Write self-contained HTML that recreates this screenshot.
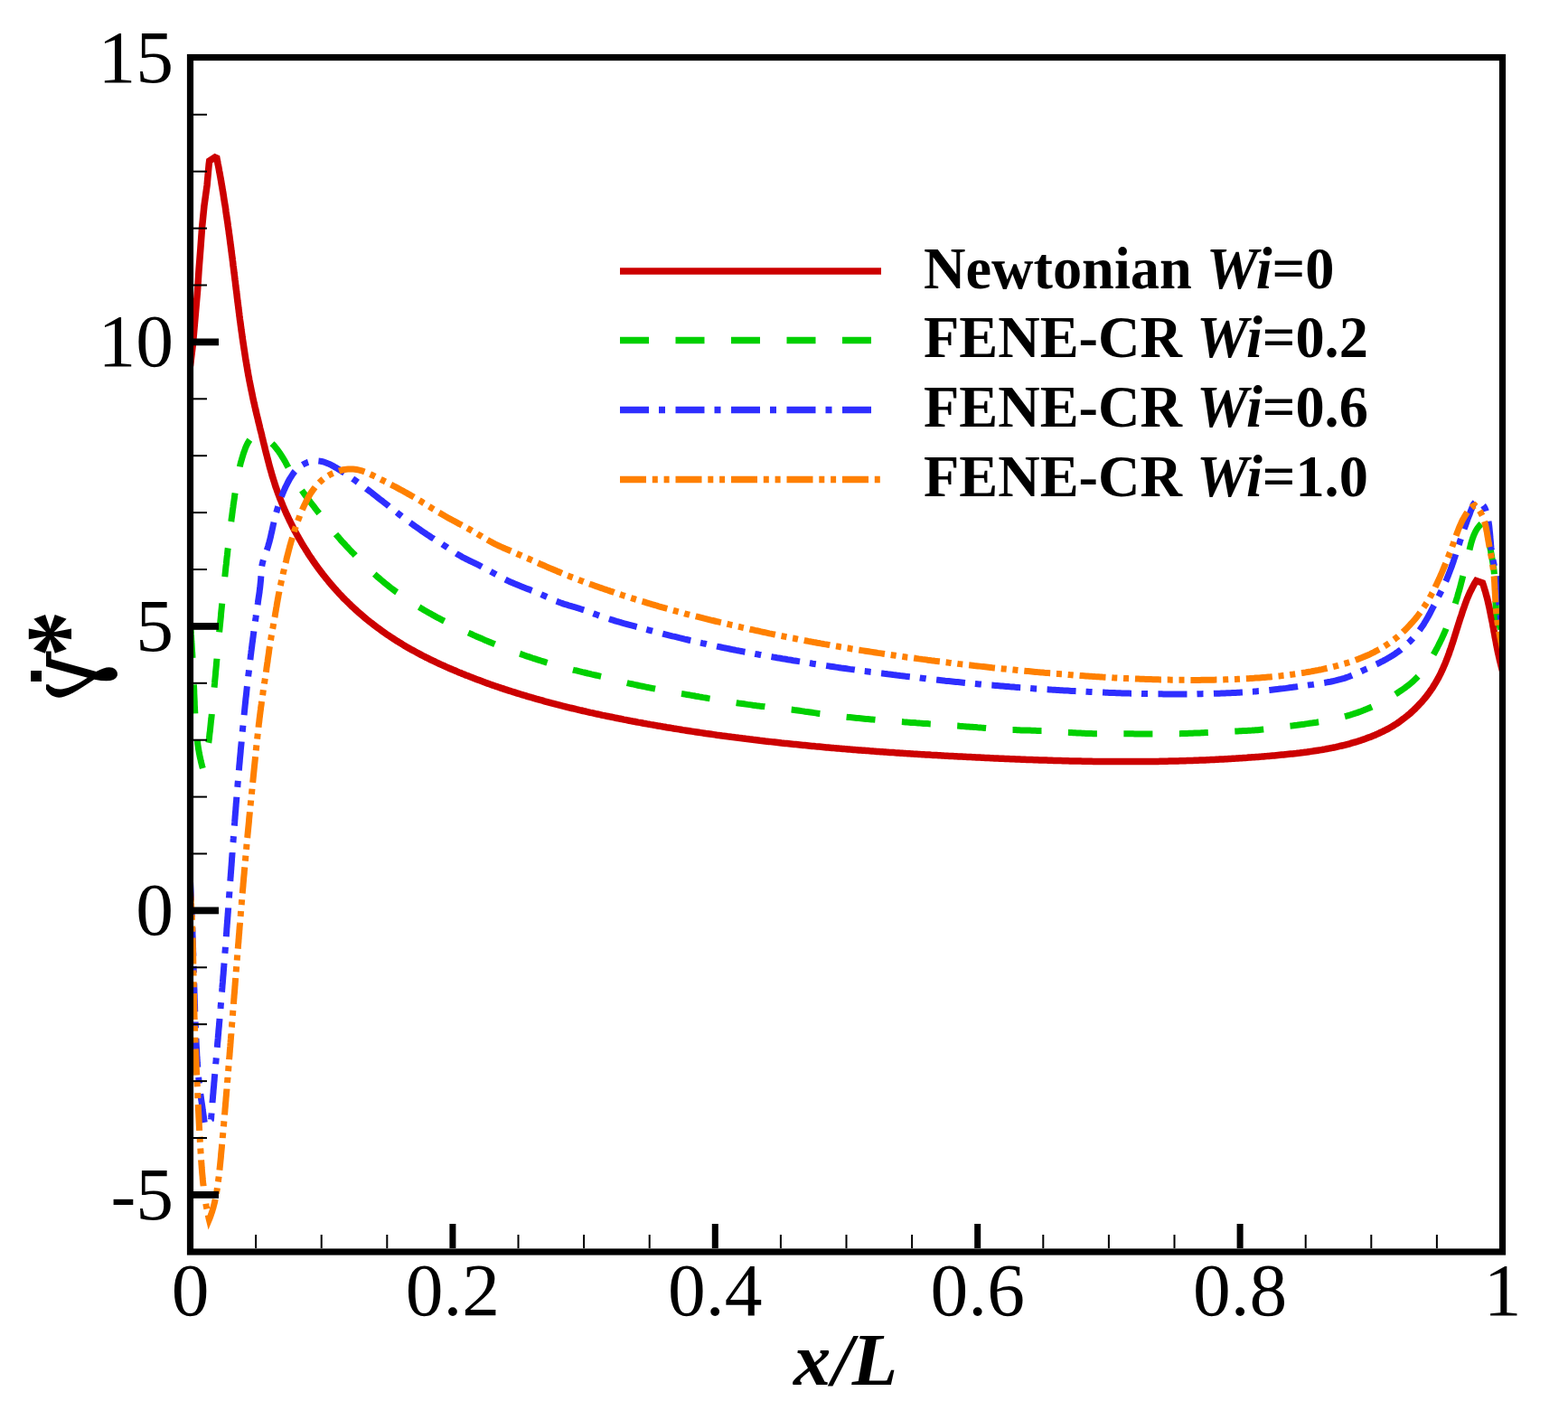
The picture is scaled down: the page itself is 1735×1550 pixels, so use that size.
<!DOCTYPE html><html><head><meta charset="utf-8"><title>plot</title><style>html,body{margin:0;padding:0;background:#fff;}svg{display:block;}text{font-family:"Liberation Serif",serif;}</style></head><body><svg width="1735" height="1550" viewBox="0 0 1735 1550"><rect width="1735" height="1550" fill="#fff"/><defs><clipPath id="pc"><rect x="210.5" y="63.5" width="1452" height="1321"/></clipPath></defs>
<g clip-path="url(#pc)" fill="none" stroke-linejoin="miter" stroke-miterlimit="10" stroke-linecap="butt">
<polyline stroke="#cc0000" stroke-width="7.5" stroke-miterlimit="1.5" points="210.5,405.0 213.5,380.0 216.6,344.4 218.6,321.2 220.1,297.9 221.9,274.7 223.6,251.4 225.9,228.1 229.1,204.9 231.2,181.6 231.7,178.0 239.5,173.0 239.9,175.0 240.3,176.9 240.7,178.9 241.0,180.9 241.4,182.8 241.8,184.8 242.2,186.8 242.5,188.7 242.9,190.7 243.3,192.7 243.6,194.7 244.0,196.6 244.3,198.6 244.7,200.6 245.0,202.6 245.3,204.5 245.7,206.5 246.0,208.5 246.3,210.5 246.7,212.4 247.0,214.4 247.3,216.4 247.6,218.4 247.9,220.3 248.2,222.3 248.5,224.3 248.9,226.3 249.2,228.3 249.5,230.2 249.8,232.2 250.0,234.2 250.3,236.2 250.6,238.1 250.9,240.1 251.2,242.1 251.5,244.1 251.8,246.1 252.1,248.1 252.3,250.0 252.6,252.0 252.9,254.0 253.2,256.0 253.4,258.0 253.7,259.9 254.0,261.9 254.2,263.9 254.5,265.9 254.7,267.9 255.0,269.9 255.3,271.8 255.5,273.8 255.8,275.8 256.0,277.8 256.3,279.8 256.5,281.8 256.8,283.8 257.1,285.7 257.3,287.7 257.6,289.7 257.8,291.7 258.0,293.7 258.3,295.7 258.5,297.6 258.8,299.6 259.0,301.6 259.3,303.6 259.5,305.6 259.8,307.6 260.0,309.5 260.3,311.5 260.5,313.5 260.7,315.5 261.0,317.5 261.2,319.5 261.5,321.5 261.7,323.4 262.0,325.4 262.2,327.4 262.4,329.4 262.7,331.4 262.9,333.4 263.2,335.3 263.4,337.3 263.7,339.3 263.9,341.3 264.2,343.3 264.4,345.3 264.7,347.2 264.9,349.2 265.2,351.2 265.4,353.2 265.7,355.2 266.0,357.1 266.2,359.1 266.5,361.1 266.8,363.1 267.0,365.1 267.3,367.1 267.6,369.0 267.9,371.0 268.1,373.0 268.4,375.0 268.7,376.9 269.0,378.9 269.3,380.9 269.6,382.9 269.9,384.9 270.2,386.8 270.5,388.8 270.8,390.8 271.1,392.8 271.4,394.7 271.7,396.7 272.0,398.7 272.4,400.7 272.7,402.6 273.0,404.6 273.4,406.6 273.7,408.6 274.0,410.5 274.4,412.5 274.7,414.5 275.1,416.4 275.5,418.4 275.8,420.4 276.2,422.3 276.6,424.3 277.0,426.3 277.4,428.2 277.8,430.2 278.2,432.2 278.6,434.1 279.0,436.1 279.4,438.1 279.8,440.0 280.2,442.0 280.7,444.0 281.1,445.9 281.6,447.9 282.0,449.8 282.5,451.8 282.9,453.8 283.4,455.7 283.8,457.7 284.3,459.6 284.8,461.6 285.3,463.6 285.7,465.5 286.2,467.5 286.7,469.4 287.2,471.4 287.6,473.3 288.1,475.3 288.6,477.2 289.1,479.2 289.6,481.1 290.0,483.1 290.5,485.0 291.0,487.0 291.4,488.9 291.9,490.9 292.4,492.8 292.9,494.7 293.3,496.7 293.8,498.6 294.3,500.6 294.8,502.5 295.3,504.4 295.8,506.4 296.3,508.3 296.8,510.2 297.3,512.1 297.8,514.1 298.3,516.0 298.8,517.9 299.4,519.8 299.9,521.7 300.5,523.7 301.0,525.6 301.6,527.5 302.2,529.4 302.8,531.3 303.4,533.2 304.0,535.1 304.6,537.0 305.2,538.9 305.9,540.7 306.5,542.6 307.2,544.5 307.9,546.4 308.6,548.3 309.3,550.1 310.0,552.0 310.8,553.8 311.5,555.7 312.3,557.6 313.0,559.4 313.8,561.2 314.6,563.1 315.4,564.9 316.2,566.7 317.0,568.6 317.9,570.4 318.7,572.2 319.6,574.0 320.4,575.8 321.3,577.6 322.2,579.4 323.1,581.2 324.0,583.0 324.9,584.8 325.8,586.6 326.8,588.3 327.7,590.1 328.7,591.9 329.7,593.6 330.7,595.4 331.7,597.1 332.7,598.8 333.7,600.6 334.7,602.3 335.7,604.0 336.8,605.7 337.8,607.4 338.9,609.1 340.0,610.8 341.0,612.5 342.1,614.2 343.2,615.9 344.4,617.5 345.5,619.2 346.6,620.8 347.8,622.5 348.9,624.1 350.1,625.8 351.3,627.4 352.4,629.0 353.6,630.6 354.8,632.2 356.1,633.8 357.3,635.4 358.5,637.0 359.8,638.5 361.0,640.1 362.3,641.6 363.5,643.2 364.8,644.7 366.1,646.3 367.4,647.8 368.7,649.3 370.0,650.8 371.4,652.3 372.7,653.8 374.1,655.2 375.4,656.7 376.8,658.2 378.2,659.6 379.5,661.1 380.9,662.5 382.3,663.9 383.8,665.3 385.2,666.7 386.6,668.1 388.1,669.5 389.5,670.9 391.0,672.2 392.4,673.6 393.9,674.9 395.4,676.3 396.9,677.6 398.4,678.9 399.9,680.2 401.4,681.5 403.0,682.8 404.5,684.1 406.0,685.4 407.6,686.6 409.1,687.9 410.7,689.1 412.3,690.3 413.9,691.6 415.5,692.8 417.1,694.0 418.7,695.1 420.3,696.3 421.9,697.5 423.5,698.7 425.2,699.8 426.8,701.0 428.4,702.1 430.1,703.2 431.8,704.3 433.4,705.4 435.1,706.5 436.8,707.6 438.5,708.7 440.2,709.7 441.8,710.8 443.6,711.8 445.3,712.9 447.0,713.9 448.7,714.9 450.4,715.9 452.1,716.9 453.9,717.9 455.6,718.9 457.4,719.8 459.1,720.8 460.9,721.7 462.6,722.7 464.4,723.6 466.2,724.6 467.9,725.5 469.7,726.4 471.5,727.3 473.3,728.2 475.1,729.1 476.9,730.0 478.7,730.8 480.5,731.7 482.3,732.6 484.1,733.4 485.9,734.3 487.7,735.1 489.5,735.9 491.4,736.7 493.2,737.6 495.0,738.4 496.9,739.2 498.7,740.0 500.5,740.8 502.4,741.5 504.2,742.3 506.1,743.1 507.9,743.9 509.8,744.6 511.6,745.4 513.5,746.1 515.3,746.9 517.2,747.6 519.0,748.3 520.9,749.1 522.8,749.8 524.6,750.5 526.5,751.2 528.4,751.9 530.2,752.6 532.1,753.3 534.0,754.0 535.9,754.7 537.8,755.4 539.6,756.1 541.5,756.7 543.4,757.4 545.3,758.1 547.2,758.7 549.1,759.4 550.9,760.0 552.8,760.7 554.7,761.3 556.6,761.9 558.5,762.6 560.4,763.2 562.3,763.8 564.2,764.4 566.1,765.0 568.0,765.6 569.9,766.2 571.8,766.8 573.8,767.4 575.7,768.0 577.6,768.6 579.5,769.2 581.4,769.7 583.3,770.3 585.2,770.9 587.2,771.4 589.1,772.0 591.0,772.5 592.9,773.1 594.8,773.6 596.8,774.2 598.7,774.7 600.6,775.2 602.5,775.8 604.5,776.3 606.4,776.8 608.3,777.3 610.3,777.9 612.2,778.4 614.1,778.9 616.1,779.4 618.0,779.9 620.0,780.4 621.9,780.9 623.8,781.3 625.8,781.8 627.7,782.3 629.7,782.8 631.6,783.3 633.6,783.7 635.5,784.2 637.4,784.7 639.4,785.1 641.3,785.6 643.3,786.0 645.2,786.5 647.2,786.9 649.1,787.4 651.1,787.8 653.1,788.3 655.0,788.7 657.0,789.1 658.9,789.6 660.9,790.0 662.8,790.4 664.8,790.8 666.8,791.3 668.7,791.7 670.7,792.1 672.6,792.5 674.6,792.9 676.6,793.3 678.5,793.7 680.5,794.1 682.4,794.5 684.4,794.9 686.4,795.3 688.3,795.7 690.3,796.1 692.3,796.4 694.2,796.8 696.2,797.2 698.2,797.6 700.1,798.0 702.1,798.3 704.1,798.7 706.0,799.1 708.0,799.4 710.0,799.8 712.0,800.2 713.9,800.5 715.9,800.9 717.9,801.2 719.8,801.6 721.8,801.9 723.8,802.3 725.8,802.6 727.7,803.0 729.7,803.3 731.7,803.6 733.7,804.0 735.6,804.3 737.6,804.7 739.6,805.0 741.6,805.3 743.5,805.6 745.5,806.0 747.5,806.3 749.5,806.6 751.4,806.9 753.4,807.2 755.4,807.6 757.4,807.9 759.4,808.2 761.3,808.5 763.3,808.8 765.3,809.1 767.3,809.4 769.3,809.7 771.2,810.0 773.2,810.3 775.2,810.6 777.2,810.9 779.2,811.2 781.1,811.5 783.1,811.7 785.1,812.0 787.1,812.3 789.1,812.6 791.1,812.9 793.1,813.2 795.0,813.4 797.0,813.7 799.0,814.0 801.0,814.2 803.0,814.5 805.0,814.8 806.9,815.0 808.9,815.3 810.9,815.6 812.9,815.8 814.9,816.1 816.9,816.3 818.9,816.6 820.9,816.8 822.8,817.1 824.8,817.3 826.8,817.6 828.8,817.8 830.8,818.1 832.8,818.3 834.8,818.6 836.8,818.8 838.8,819.0 840.7,819.3 842.7,819.5 844.7,819.7 846.7,820.0 848.7,820.2 850.7,820.4 852.7,820.6 854.7,820.9 856.7,821.1 858.7,821.3 860.7,821.5 862.6,821.7 864.6,822.0 866.6,822.2 868.6,822.4 870.6,822.6 872.6,822.8 874.6,823.0 876.6,823.2 878.6,823.4 880.6,823.6 882.6,823.8 884.6,824.0 886.6,824.2 888.6,824.4 890.6,824.6 892.5,824.8 894.5,825.0 896.5,825.2 898.5,825.4 900.5,825.6 902.5,825.8 904.5,825.9 906.5,826.1 908.5,826.3 910.5,826.5 912.5,826.7 914.5,826.9 916.5,827.0 918.5,827.2 920.5,827.4 922.5,827.6 924.5,827.7 926.5,827.9 928.5,828.1 930.5,828.2 932.5,828.4 934.5,828.6 936.5,828.7 938.5,828.9 940.4,829.1 942.4,829.2 944.4,829.4 946.4,829.6 948.4,829.7 950.4,829.9 952.4,830.0 954.4,830.2 956.4,830.3 958.4,830.5 960.4,830.6 962.4,830.8 964.4,830.9 966.4,831.1 968.4,831.2 970.4,831.4 972.4,831.5 974.4,831.7 976.4,831.8 978.4,831.9 980.4,832.1 982.4,832.2 984.4,832.4 986.4,832.5 988.4,832.6 990.4,832.8 992.4,832.9 994.4,833.0 996.4,833.2 998.4,833.3 1000.4,833.4 1002.4,833.6 1004.4,833.7 1006.4,833.8 1008.4,833.9 1010.4,834.1 1012.4,834.2 1014.4,834.3 1016.3,834.4 1018.3,834.6 1020.3,834.7 1022.3,834.8 1024.3,834.9 1026.3,835.0 1028.3,835.1 1030.3,835.3 1032.3,835.4 1034.3,835.5 1036.3,835.6 1038.3,835.7 1040.3,835.8 1042.3,835.9 1044.3,836.1 1046.3,836.2 1048.3,836.3 1050.3,836.4 1052.3,836.5 1054.3,836.6 1056.3,836.7 1058.3,836.8 1060.3,836.9 1062.3,837.0 1064.3,837.1 1066.3,837.2 1068.3,837.3 1070.2,837.4 1072.2,837.5 1074.2,837.6 1076.2,837.7 1078.2,837.8 1080.2,837.9 1082.2,838.0 1084.2,838.1 1086.2,838.2 1088.2,838.3 1090.2,838.4 1092.2,838.5 1094.2,838.6 1096.2,838.7 1098.2,838.8 1100.2,838.9 1102.2,839.0 1104.1,839.1 1106.1,839.2 1108.1,839.2 1110.1,839.3 1112.1,839.4 1114.1,839.5 1116.1,839.6 1118.1,839.7 1120.1,839.8 1122.1,839.8 1124.1,839.9 1126.1,840.0 1128.1,840.1 1130.1,840.2 1132.0,840.2 1134.0,840.3 1136.0,840.4 1138.0,840.5 1140.0,840.5 1142.0,840.6 1144.0,840.7 1146.0,840.7 1148.0,840.8 1150.0,840.9 1152.0,841.0 1154.0,841.0 1156.0,841.1 1157.9,841.1 1159.9,841.2 1161.9,841.3 1163.9,841.3 1165.9,841.4 1167.9,841.4 1169.9,841.5 1171.9,841.6 1173.9,841.6 1175.9,841.7 1177.9,841.7 1179.9,841.8 1181.9,841.8 1183.8,841.9 1185.8,841.9 1187.8,842.0 1189.8,842.0 1191.8,842.0 1193.8,842.1 1195.8,842.1 1197.8,842.2 1199.8,842.2 1201.8,842.2 1203.8,842.3 1205.8,842.3 1207.8,842.3 1209.8,842.4 1211.7,842.4 1213.7,842.4 1215.7,842.4 1217.7,842.5 1219.7,842.5 1221.7,842.5 1223.7,842.5 1225.7,842.5 1227.7,842.6 1229.7,842.6 1231.7,842.6 1233.7,842.6 1235.7,842.6 1237.7,842.6 1239.7,842.6 1241.7,842.6 1243.7,842.6 1245.6,842.6 1247.6,842.6 1249.6,842.6 1251.6,842.6 1253.6,842.6 1255.6,842.6 1257.6,842.6 1259.6,842.6 1261.6,842.6 1263.6,842.6 1265.6,842.6 1267.6,842.5 1269.6,842.5 1271.6,842.5 1273.6,842.5 1275.6,842.5 1277.6,842.4 1279.6,842.4 1281.6,842.4 1283.6,842.3 1285.6,842.3 1287.6,842.3 1289.6,842.2 1291.6,842.2 1293.6,842.1 1295.6,842.1 1297.6,842.0 1299.6,842.0 1301.6,841.9 1303.6,841.9 1305.6,841.8 1307.6,841.8 1309.6,841.7 1311.6,841.7 1313.6,841.6 1315.6,841.5 1317.6,841.5 1319.6,841.4 1321.6,841.3 1323.6,841.3 1325.6,841.2 1327.6,841.1 1329.6,841.0 1331.6,840.9 1333.6,840.9 1335.6,840.8 1337.6,840.7 1339.6,840.6 1341.6,840.5 1343.7,840.4 1345.7,840.3 1347.7,840.2 1349.7,840.1 1351.7,840.0 1353.7,839.9 1355.7,839.8 1357.7,839.7 1359.7,839.5 1361.7,839.4 1363.7,839.3 1365.7,839.2 1367.7,839.1 1369.8,838.9 1371.8,838.8 1373.8,838.7 1375.8,838.5 1377.8,838.4 1379.8,838.3 1381.8,838.1 1383.8,838.0 1385.8,837.8 1387.9,837.7 1389.9,837.5 1391.9,837.4 1393.9,837.2 1395.9,837.1 1397.9,836.9 1399.9,836.7 1402.0,836.6 1404.0,836.4 1406.0,836.2 1408.0,836.0 1410.0,835.9 1412.0,835.7 1414.1,835.5 1416.1,835.3 1418.1,835.1 1420.1,834.9 1422.1,834.7 1424.2,834.5 1426.2,834.3 1428.2,834.1 1430.2,833.9 1432.2,833.7 1434.2,833.5 1436.2,833.2 1438.3,833.0 1440.3,832.7 1442.3,832.5 1444.3,832.2 1446.3,832.0 1448.3,831.7 1450.3,831.4 1452.3,831.1 1454.3,830.8 1456.3,830.5 1458.3,830.2 1460.3,829.9 1462.2,829.6 1464.2,829.2 1466.2,828.9 1468.2,828.5 1470.1,828.1 1472.1,827.8 1474.1,827.4 1476.0,827.0 1478.0,826.6 1479.9,826.1 1481.9,825.7 1483.8,825.2 1485.8,824.8 1487.7,824.3 1489.6,823.8 1491.5,823.3 1493.5,822.8 1495.4,822.2 1497.3,821.7 1499.2,821.1 1501.1,820.6 1503.0,820.0 1504.8,819.4 1506.7,818.7 1508.6,818.1 1510.4,817.5 1512.3,816.8 1514.1,816.1 1516.0,815.4 1517.8,814.7 1519.6,813.9 1521.5,813.2 1523.3,812.4 1525.1,811.6 1526.9,810.8 1528.6,810.0 1530.4,809.1 1532.2,808.2 1533.9,807.3 1535.7,806.4 1537.4,805.4 1539.1,804.5 1540.9,803.5 1542.5,802.4 1544.2,801.4 1545.9,800.3 1547.6,799.1 1549.2,798.0 1550.8,796.8 1552.4,795.6 1554.0,794.4 1555.6,793.1 1557.2,791.9 1558.7,790.6 1560.3,789.3 1561.8,787.9 1563.3,786.6 1564.7,785.2 1566.2,783.8 1567.6,782.3 1569.0,780.9 1570.4,779.4 1571.8,778.0 1573.2,776.5 1574.5,774.9 1575.8,773.4 1577.1,771.8 1578.3,770.3 1579.6,768.7 1580.8,767.1 1582.0,765.4 1583.1,763.8 1584.3,762.2 1585.4,760.5 1586.4,758.8 1587.5,757.1 1588.5,755.4 1589.5,753.7 1590.5,751.9 1591.5,750.2 1592.4,748.4 1593.3,746.6 1594.2,744.9 1595.0,743.1 1595.9,741.2 1596.7,739.4 1597.5,737.6 1598.3,735.8 1599.1,733.9 1599.8,732.1 1600.6,730.2 1601.3,728.3 1602.0,726.5 1602.7,724.6 1603.4,722.7 1604.0,720.8 1604.7,718.9 1605.4,717.0 1606.0,715.1 1606.6,713.2 1607.3,711.3 1607.9,709.4 1608.5,707.5 1609.1,705.5 1609.7,703.6 1610.3,701.7 1610.9,699.8 1611.5,697.9 1612.1,695.9 1612.7,694.0 1613.3,692.1 1613.9,690.2 1614.5,688.3 1615.1,686.4 1615.7,684.5 1616.3,682.6 1617.0,680.7 1617.6,678.8 1618.2,676.9 1618.8,675.0 1619.5,673.1 1620.2,671.2 1620.8,669.4 1621.5,667.5 1622.2,665.7 1622.9,663.8 1623.6,662.0 1624.4,660.2 1625.2,658.3 1626.0,656.5 1626.8,654.7 1627.7,653.0 1628.6,651.2 1629.5,649.4 1630.4,647.7 1631.4,645.9 1632.4,644.2 1633.5,642.5 1640.5,645.0 1641.2,646.9 1641.8,648.9 1642.4,650.8 1643.0,652.8 1643.6,654.7 1644.1,656.7 1644.6,658.6 1645.2,660.6 1645.7,662.5 1646.2,664.5 1646.6,666.5 1647.1,668.5 1647.5,670.4 1648.0,672.4 1648.4,674.4 1648.8,676.4 1649.2,678.4 1649.6,680.4 1650.0,682.4 1650.4,684.4 1650.8,686.4 1651.2,688.3 1651.6,690.3 1651.9,692.3 1652.3,694.3 1652.7,696.3 1653.0,698.3 1653.4,700.3 1653.8,702.3 1654.1,704.3 1654.5,706.3 1654.9,708.3 1655.3,710.3 1655.6,712.3 1656.0,714.3 1656.4,716.3 1656.8,718.3 1657.2,720.3 1657.6,722.3 1658.1,724.3 1658.5,726.2 1659.0,728.2 1659.4,730.2 1659.9,732.2 1660.4,734.2 1660.9,736.1 1661.4,738.1 1661.9,740.0 1662.5,742.0"/>
<polyline stroke="#00d000" stroke-width="7" stroke-dasharray="32 29.5" stroke-dashoffset="-8" points="210.5,688.0 210.6,690.0 210.8,692.0 210.9,694.0 211.0,696.0 211.2,698.0 211.3,700.0 211.4,702.0 211.6,704.1 211.7,706.1 211.8,708.1 211.9,710.1 212.1,712.1 212.2,714.1 212.3,716.1 212.4,718.2 212.5,720.2 212.7,722.2 212.8,724.2 212.9,726.2 213.0,728.2 213.1,730.3 213.2,732.3 213.3,734.3 213.4,736.3 213.5,738.3 213.6,740.4 213.7,742.4 213.8,744.4 213.9,746.4 214.0,748.5 214.1,750.5 214.2,752.5 214.3,754.5 214.4,756.5 214.5,758.6 214.6,760.6 214.7,762.6 214.8,764.6 214.8,766.6 214.9,768.7 215.0,770.7 215.1,772.7 215.2,774.7 215.3,776.7 215.3,778.7 215.4,780.8 215.5,782.8 215.6,784.8 215.7,786.8 215.8,788.8 215.9,790.8 216.0,792.8 216.1,794.8 216.2,796.8 216.4,798.9 216.5,800.9 216.6,802.9 216.8,804.9 217.0,806.9 217.1,808.9 217.3,810.9 217.5,812.9 217.7,814.9 218.0,816.9 218.2,818.9 218.5,820.8 218.7,822.8 219.0,824.8 219.3,826.8 219.6,828.8 220.0,830.8 220.3,832.8 220.7,834.7 221.1,836.7 221.5,838.7 222.0,840.7 222.4,842.6 222.9,844.6 223.4,846.6 223.9,848.5 224.5,850.5"/>
<polyline stroke="#00d000" stroke-width="7" stroke-dasharray="32 29.5" stroke-dashoffset="32.1" points="224.5,850.5 230.9,821.2 231.1,819.2 231.4,817.2 231.6,815.2 231.8,813.2 232.0,811.2 232.3,809.3 232.5,807.3 232.7,805.3 232.9,803.3 233.1,801.3 233.3,799.3 233.5,797.3 233.8,795.3 234.0,793.3 234.2,791.3 234.4,789.3 234.6,787.4 234.8,785.4 235.0,783.4 235.1,781.4 235.3,779.4 235.5,777.4 235.7,775.4 235.9,773.4 236.1,771.4 236.3,769.5 236.5,767.5 236.7,765.5 236.8,763.5 237.0,761.5 237.2,759.5 237.4,757.5 237.6,755.5 237.7,753.5 237.9,751.6 238.1,749.6 238.3,747.6 238.5,745.6 238.6,743.6 238.8,741.6 239.0,739.6 239.2,737.6 239.4,735.6 239.5,733.7 239.7,731.7 239.9,729.7 240.1,727.7 240.3,725.7 240.4,723.7 240.6,721.7 240.8,719.7 241.0,717.7 241.2,715.8 241.4,713.8 241.5,711.8 241.7,709.8 241.9,707.8 242.1,705.8 242.3,703.8 242.5,701.8 242.6,699.8 242.8,697.8 243.0,695.9 243.2,693.9 243.4,691.9 243.6,689.9 243.8,687.9 244.0,685.9 244.2,683.9 244.4,681.9 244.5,679.9 244.7,677.9 244.9,675.9 245.1,674.0 245.3,672.0 245.5,670.0 245.7,668.0 245.9,666.0 246.1,664.0 246.3,662.0 246.5,660.0 246.7,658.0 246.9,656.0 247.1,654.0 247.3,652.0 247.5,650.1 247.7,648.1 247.9,646.1 248.1,644.1 248.3,642.1 248.6,640.1 248.8,638.1 249.0,636.1 249.2,634.1 249.4,632.1 249.6,630.1 249.8,628.1 250.0,626.2 250.3,624.2 250.5,622.2 250.7,620.2 250.9,618.2 251.1,616.2 251.4,614.2 251.6,612.2 251.8,610.2 252.0,608.2 252.3,606.3 252.5,604.3 252.7,602.3 253.0,600.3 253.2,598.3 253.4,596.3 253.7,594.3 253.9,592.4 254.2,590.4 254.4,588.4 254.6,586.4 254.9,584.4 255.1,582.4 255.4,580.5 255.6,578.5 255.9,576.5 256.1,574.5 256.4,572.5 256.7,570.6 256.9,568.6 257.2,566.6 257.4,564.6 257.7,562.7 258.0,560.7 258.2,558.7 258.5,556.7 258.8,554.8 259.1,552.8 259.4,550.8 259.6,548.8 259.9,546.9 260.2,544.9 260.5,542.9 260.8,541.0 261.1,539.0 261.4,537.0 261.7,535.1 262.0,533.1 262.4,531.2 262.7,529.2 263.1,527.2 263.4,525.3 263.8,523.3 264.2,521.4 264.6,519.4 265.1,517.4 265.5,515.5 266.0,513.5 266.5,511.5 267.1,509.6 267.6,507.6 268.2,505.7 268.8,503.7 269.4,501.7 270.1,499.8 270.8,497.8 271.5,495.9 272.3,494.0 273.2,492.1 274.1,490.2 275.1,488.5 276.2,486.8 277.4,485.2 278.7,483.8 280.1,482.7 281.6,481.8 283.3,481.3 285.0,481.2 286.8,481.5 288.7,482.1 290.5,482.9 292.3,483.9 294.1,485.1 295.8,486.3 297.4,487.5 299.0,488.9 300.5,490.2 302.0,491.7 303.4,493.2 304.7,494.7 306.0,496.3 307.2,497.9 308.4,499.5 309.6,501.2 310.7,502.9 311.8,504.6 312.9,506.4 313.9,508.1 315.0,509.9 316.0,511.6 316.9,513.4 317.9,515.2 318.9,516.9 319.8,518.7 320.8,520.4 321.8,522.1 322.7,523.8 323.7,525.5 324.6,527.2 325.6,528.9 326.6,530.6 327.6,532.3 328.6,534.0 329.6,535.6 330.6,537.3 331.7,538.9 332.8,540.6 333.8,542.2 335.0,543.9 336.1,545.5 337.2,547.1 338.4,548.7 339.6,550.4 340.8,552.0 342.0,553.6 343.2,555.2 344.5,556.8 345.7,558.4 347.0,560.0 348.2,561.6 349.5,563.3 350.7,564.9 352.0,566.5 353.3,568.1 354.5,569.7 355.8,571.3 357.0,572.9 358.3,574.5 359.5,576.1 360.8,577.7 362.0,579.3 363.3,580.8 364.5,582.4 365.8,584.0 367.0,585.5 368.3,587.1 369.5,588.6 370.8,590.1 372.1,591.7 373.4,593.2 374.7,594.6 375.9,596.1 377.2,597.6 378.5,599.1 379.9,600.5 381.2,601.9 382.5,603.4 383.8,604.8 385.2,606.2 386.5,607.7 387.9,609.1 389.2,610.5 390.6,611.9 392.0,613.3 393.4,614.8 394.8,616.2 396.2,617.6 397.6,619.0 399.0,620.5 400.4,621.9 401.8,623.3 403.3,624.7 404.7,626.1 406.1,627.6 407.6,629.0 409.1,630.4 410.5,631.7 412.0,633.1 413.5,634.5 415.0,635.8 416.5,637.2 418.0,638.5 419.6,639.8 421.1,641.1 422.6,642.4 424.2,643.7 425.7,645.0 427.3,646.2 428.9,647.5 430.4,648.7 432.0,650.0 433.6,651.2 435.2,652.4 436.8,653.6 438.4,654.8 440.1,655.9 441.7,657.1 443.3,658.3 444.9,659.4 446.6,660.5 448.2,661.7 449.9,662.8 451.6,663.9 453.2,665.0 454.9,666.1 456.6,667.2 458.3,668.2 460.0,669.3 461.7,670.3 463.4,671.4 465.1,672.4 466.8,673.4 468.5,674.5 470.2,675.5 472.0,676.5 473.7,677.5 475.4,678.5 477.2,679.4 478.9,680.4 480.7,681.4 482.4,682.3 484.2,683.3 486.0,684.2 487.7,685.2 489.5,686.1 491.3,687.0 493.1,687.9 494.8,688.8 496.6,689.7 498.4,690.6 500.2,691.5 502.0,692.4 503.8,693.3 505.6,694.1 507.4,695.0 509.2,695.9 511.0,696.7 512.8,697.6 514.7,698.4 516.5,699.3 518.3,700.1 520.1,700.9 522.0,701.7 523.8,702.6 525.6,703.4 527.4,704.2 529.3,705.0 531.1,705.8 533.0,706.6 534.8,707.4 536.6,708.2 538.5,708.9 540.3,709.7 542.2,710.5 544.0,711.3 545.9,712.0 547.7,712.8 549.6,713.5 551.5,714.3 553.3,715.0 555.2,715.7 557.0,716.5 558.9,717.2 560.8,717.9 562.6,718.6 564.5,719.3 566.4,720.0 568.3,720.7 570.1,721.4 572.0,722.1 573.9,722.8 575.8,723.4 577.7,724.1 579.6,724.7 581.4,725.4 583.3,726.1 585.2,726.7 587.1,727.3 589.0,728.0 590.9,728.6 592.8,729.2 594.7,729.8 596.6,730.4 598.5,731.0 600.4,731.6 602.3,732.2 604.2,732.8 606.1,733.4 608.0,733.9 609.9,734.5 611.9,735.1 613.8,735.6 615.7,736.2 617.6,736.7 619.5,737.2 621.4,737.8 623.4,738.3 625.3,738.8 627.2,739.3 629.1,739.8 631.1,740.3 633.0,740.8 634.9,741.3 636.8,741.7 638.8,742.2 640.7,742.7 642.6,743.1 644.6,743.6 646.5,744.0 648.4,744.5 650.4,745.0 652.3,745.4 654.2,745.9 656.2,746.3 658.1,746.8 660.1,747.2 662.0,747.7 664.0,748.2 665.9,748.6 667.8,749.1 669.8,749.6 671.7,750.1 673.7,750.6 675.6,751.1 677.6,751.6 679.5,752.0 681.5,752.5 683.4,753.0 685.4,753.5 687.4,754.0 689.3,754.5 691.3,754.9 693.2,755.4 695.2,755.9 697.1,756.3 699.1,756.7 701.1,757.2 703.0,757.6 705.0,758.0 706.9,758.5 708.9,758.9 710.9,759.3 712.8,759.7 714.8,760.1 716.8,760.5 718.7,760.9 720.7,761.3 722.6,761.6 724.6,762.0 726.6,762.4 728.5,762.8 730.5,763.1 732.5,763.5 734.5,763.9 736.4,764.2 738.4,764.6 740.4,764.9 742.3,765.3 744.3,765.6 746.3,766.0 748.2,766.4 750.2,766.7 752.2,767.1 754.2,767.4 756.1,767.8 758.1,768.1 760.1,768.5 762.0,768.8 764.0,769.1 766.0,769.5 768.0,769.8 769.9,770.2 771.9,770.5 773.9,770.9 775.9,771.2 777.8,771.6 779.8,771.9 781.8,772.2 783.7,772.6 785.7,772.9 787.7,773.2 789.7,773.6 791.6,773.9 793.6,774.2 795.6,774.6 797.6,774.9 799.5,775.2 801.5,775.5 803.5,775.8 805.5,776.1 807.5,776.5 809.4,776.8 811.4,777.1 813.4,777.4 815.4,777.7 817.3,778.0 819.3,778.2 821.3,778.5 823.3,778.8 825.3,779.1 827.2,779.4 829.2,779.6 831.2,779.9 833.2,780.2 835.1,780.4 837.1,780.7 839.1,780.9 841.1,781.2 843.1,781.4 845.0,781.6 847.0,781.9 849.0,782.1 851.0,782.3 853.0,782.5 855.0,782.7 856.9,782.9 858.9,783.2 860.9,783.4 862.9,783.6 864.9,783.8 866.8,784.0 868.8,784.2 870.8,784.5 872.8,784.7 874.8,785.0 876.8,785.2 878.7,785.5 880.7,785.7 882.7,786.0 884.7,786.3 886.7,786.6 888.7,786.9 890.6,787.2 892.6,787.4 894.6,787.7 896.6,788.0 898.6,788.3 900.6,788.6 902.6,788.9 904.5,789.2 906.5,789.5 908.5,789.7 910.5,790.0 912.5,790.3 914.5,790.5 916.5,790.8 918.4,791.1 920.4,791.3 922.4,791.6 924.4,791.8 926.4,792.0 928.4,792.3 930.4,792.5 932.3,792.7 934.3,792.9 936.3,793.2 938.3,793.4 940.3,793.6 942.3,793.8 944.3,794.0 946.3,794.2 948.2,794.4 950.2,794.6 952.2,794.8 954.2,795.0 956.2,795.2 958.2,795.4 960.2,795.5 962.2,795.7 964.2,795.9 966.2,796.1 968.1,796.2 970.1,796.4 972.1,796.6 974.1,796.8 976.1,796.9 978.1,797.1 980.1,797.2 982.1,797.4 984.1,797.6 986.1,797.7 988.0,797.9 990.0,798.0 992.0,798.2 994.0,798.3 996.0,798.5 998.0,798.6 1000.0,798.8 1002.0,798.9 1004.0,799.1 1006.0,799.2 1008.0,799.4 1010.0,799.5 1011.9,799.6 1013.9,799.8 1015.9,799.9 1017.9,800.1 1019.9,800.2 1021.9,800.4 1023.9,800.5 1025.9,800.6 1027.9,800.8 1029.9,800.9 1031.9,801.1 1033.9,801.2 1035.9,801.4 1037.9,801.5 1039.8,801.7 1041.8,801.8 1043.8,801.9 1045.8,802.1 1047.8,802.2 1049.8,802.4 1051.8,802.5 1053.8,802.7 1055.8,802.8 1057.8,803.0 1059.8,803.1 1061.8,803.3 1063.8,803.4 1065.8,803.6 1067.8,803.7 1069.8,803.9 1071.8,804.0 1073.8,804.2 1075.8,804.3 1077.7,804.5 1079.7,804.6 1081.7,804.8 1083.7,804.9 1085.7,805.1 1087.7,805.2 1089.7,805.4 1091.7,805.6 1093.7,805.7 1095.7,805.9 1097.7,806.0 1099.7,806.2 1101.7,806.3 1103.7,806.5 1105.7,806.6 1107.7,806.7 1109.7,806.9 1111.7,807.0 1113.7,807.1 1115.7,807.2 1117.7,807.4 1119.7,807.5 1121.7,807.5 1123.7,807.6 1125.7,807.7 1127.7,807.8 1129.7,807.9 1131.7,807.9 1133.7,808.0 1135.7,808.0 1137.7,808.1 1139.6,808.1 1141.6,808.2 1143.6,808.3 1145.6,808.3 1147.6,808.4 1149.6,808.5 1151.6,808.6 1153.6,808.6 1155.6,808.7 1157.6,808.8 1159.6,808.9 1161.6,809.0 1163.6,809.2 1165.6,809.3 1167.6,809.4 1169.6,809.5 1171.6,809.6 1173.6,809.8 1175.6,809.9 1177.6,810.0 1179.6,810.2 1181.6,810.3 1183.6,810.4 1185.6,810.5 1187.6,810.7 1189.6,810.8 1191.6,810.9 1193.6,811.0 1195.6,811.1 1197.6,811.2 1199.6,811.3 1201.6,811.4 1203.6,811.5 1205.6,811.5 1207.6,811.6 1209.6,811.7 1211.6,811.7 1213.6,811.8 1215.6,811.8 1217.6,811.8 1219.6,811.8 1221.6,811.8 1223.6,811.8 1225.6,811.8 1227.6,811.8 1229.6,811.8 1231.6,811.8 1233.6,811.8 1235.6,811.8 1237.6,811.7 1239.6,811.7 1241.6,811.7 1243.6,811.7 1245.6,811.7 1247.6,811.8 1249.6,811.8 1251.6,811.8 1253.6,811.8 1255.6,811.9 1257.6,811.9 1259.6,811.9 1261.6,812.0 1263.6,812.0 1265.6,812.0 1267.6,812.0 1269.6,812.1 1271.6,812.1 1273.6,812.1 1275.6,812.1 1277.6,812.1 1279.6,812.1 1281.6,812.1 1283.6,812.1 1285.6,812.1 1287.6,812.1 1289.6,812.0 1291.6,812.0 1293.6,812.0 1295.6,811.9 1297.6,811.9 1299.6,811.9 1301.6,811.8 1303.6,811.7 1305.6,811.7 1307.6,811.6 1309.6,811.6 1311.6,811.5 1313.6,811.4 1315.6,811.3 1317.6,811.3 1319.6,811.2 1321.6,811.1 1323.6,811.0 1325.6,810.9 1327.6,810.9 1329.6,810.8 1331.6,810.7 1333.6,810.6 1335.5,810.5 1337.5,810.4 1339.5,810.3 1341.5,810.2 1343.5,810.1 1345.5,810.0 1347.5,809.9 1349.5,809.8 1351.5,809.7 1353.5,809.6 1355.5,809.5 1357.5,809.4 1359.5,809.3 1361.5,809.2 1363.5,809.2 1365.5,809.1 1367.5,809.0 1369.5,808.9 1371.5,808.8 1373.4,808.7 1375.4,808.6 1377.4,808.5 1379.4,808.4 1381.4,808.3 1383.4,808.2 1385.4,808.1 1387.4,807.9 1389.4,807.8 1391.4,807.7 1393.4,807.5 1395.3,807.3 1397.3,807.1 1399.3,806.9 1401.3,806.7 1403.3,806.5 1405.3,806.3 1407.3,806.0 1409.3,805.8 1411.3,805.5 1413.3,805.3 1415.2,805.0 1417.2,804.7 1419.2,804.4 1421.2,804.2 1423.2,803.9 1425.2,803.6 1427.2,803.3 1429.2,803.1 1431.2,802.8 1433.2,802.5 1435.1,802.3 1437.1,802.0 1439.1,801.7 1441.1,801.4 1443.1,801.2 1445.1,800.9 1447.1,800.6 1449.1,800.3 1451.0,800.1 1453.0,799.8 1455.0,799.5 1457.0,799.2 1458.9,798.8 1460.9,798.5 1462.9,798.2 1464.9,797.8 1466.8,797.5 1468.8,797.1 1470.7,796.8 1472.7,796.4 1474.6,796.0 1476.6,795.6 1478.5,795.1 1480.5,794.7 1482.4,794.2 1484.3,793.7 1486.3,793.2 1488.2,792.7 1490.1,792.2 1492.0,791.6 1493.9,791.0 1495.8,790.5 1497.7,789.8 1499.6,789.2 1501.5,788.6 1503.4,787.9 1505.3,787.2 1507.2,786.5 1509.0,785.8 1510.9,785.0 1512.7,784.3 1514.6,783.5 1516.4,782.7 1518.2,781.9 1520.1,781.0 1521.9,780.2 1523.7,779.3 1525.5,778.4 1527.3,777.5 1529.1,776.6 1530.8,775.7 1532.6,774.7 1534.4,773.7 1536.1,772.8 1537.9,771.8 1539.6,770.7 1541.3,769.7 1543.1,768.7 1544.8,767.6 1546.5,766.5 1548.1,765.4 1549.8,764.3 1551.5,763.2 1553.1,762.0 1554.8,760.8 1556.4,759.6 1557.9,758.4 1559.5,757.2 1561.1,755.9 1562.6,754.6 1564.1,753.3 1565.5,751.9 1566.9,750.5 1568.3,749.1 1569.7,747.7 1571.0,746.2 1572.3,744.7 1573.6,743.1 1574.8,741.6 1576.0,740.0 1577.2,738.4 1578.4,736.7 1579.5,735.1 1580.6,733.4 1581.7,731.7 1582.7,730.0 1583.8,728.3 1584.8,726.6 1585.8,724.8 1586.8,723.1 1587.8,721.3 1588.7,719.5 1589.7,717.8 1590.6,716.0 1591.5,714.2 1592.4,712.4 1593.3,710.6 1594.2,708.8 1595.1,707.0 1595.9,705.1 1596.8,703.3 1597.6,701.5 1598.4,699.6 1599.2,697.8 1600.0,696.0 1600.7,694.1 1601.5,692.2 1602.2,690.4 1603.0,688.5 1603.7,686.7 1604.4,684.8 1605.1,682.9 1605.8,681.0 1606.5,679.1 1607.1,677.3 1607.8,675.4 1608.4,673.5 1609.0,671.6 1609.6,669.7 1610.3,667.8 1610.8,665.9 1611.4,664.0 1612.0,662.1 1612.6,660.2 1613.1,658.3 1613.7,656.4 1614.2,654.5 1614.8,652.6 1615.3,650.7 1615.8,648.8 1616.3,646.8 1616.8,644.9 1617.3,643.0 1617.8,641.1 1618.3,639.1 1618.8,637.2 1619.3,635.3 1619.8,633.3 1620.3,631.4 1620.8,629.5 1621.2,627.5 1621.7,625.5 1622.2,623.6 1622.7,621.6 1623.2,619.7 1623.6,617.7 1624.1,615.7 1624.6,613.7 1625.1,611.7 1625.6,609.8 1626.1,607.8 1626.6,605.8 1627.1,603.8 1627.6,601.8 1628.2,599.8 1628.8,597.8 1629.4,595.9 1630.1,594.0 1630.8,592.1 1631.6,590.3 1632.4,588.5 1633.4,586.8 1634.4,585.1 1635.5,583.5 1636.7,582.0 1638.0,580.6 1639.5,579.3 1641.0,578.0 1642.0,579.9 1642.9,581.7 1643.6,583.6 1644.3,585.5 1644.9,587.4 1645.4,589.3 1645.9,591.2 1646.4,593.1 1646.8,595.1 1647.1,597.0 1647.5,599.0 1647.9,600.9 1648.2,602.9 1648.6,604.8 1649.0,606.8 1649.4,608.8 1649.7,610.8 1650.1,612.8 1650.5,614.8 1650.8,616.8 1651.1,618.8 1651.5,620.8 1651.8,622.8 1652.1,624.8 1652.4,626.8 1652.7,628.8 1653.0,630.9 1653.2,632.9 1653.4,634.9 1653.6,636.9 1653.8,638.9 1654.0,641.0 1654.1,643.0 1654.2,645.0 1654.3,647.0 1654.4,649.1 1654.4,651.1 1654.5,653.1 1654.5,655.1 1654.6,657.1 1654.6,659.1 1654.7,661.1 1654.8,663.1 1654.9,665.1 1655.0,667.1 1655.1,669.1 1655.2,671.1 1655.4,673.1 1655.6,675.1 1655.8,677.0 1656.1,679.0 1656.4,680.9 1656.8,682.9 1657.2,684.8 1657.6,686.7 1658.1,688.7 1658.7,690.6 1659.3,692.5 1660.0,694.4 1660.8,696.3 1661.6,698.1 1662.5,700.0"/>
<polyline stroke="#2e2eff" stroke-width="7" stroke-dasharray="32 11 7 11.5" stroke-dashoffset="10.4" points="210.5,975.0 210.6,977.0 210.7,979.0 210.8,981.0 210.9,983.0 211.0,985.0 211.1,987.0 211.2,989.1 211.3,991.1 211.4,993.1 211.5,995.1 211.6,997.1 211.7,999.1 211.8,1001.1 211.9,1003.1 212.0,1005.1 212.1,1007.1 212.1,1009.1 212.2,1011.2 212.3,1013.2 212.4,1015.2 212.5,1017.2 212.5,1019.2 212.6,1021.2 212.7,1023.2 212.8,1025.2 212.8,1027.3 212.9,1029.3 213.0,1031.3 213.0,1033.3 213.1,1035.3 213.2,1037.3 213.2,1039.3 213.3,1041.3 213.4,1043.4 213.4,1045.4 213.5,1047.4 213.6,1049.4 213.6,1051.4 213.7,1053.4 213.8,1055.4 213.8,1057.4 213.9,1059.5 213.9,1061.5 214.0,1063.5 214.1,1065.5 214.1,1067.5 214.2,1069.5 214.2,1071.5 214.3,1073.6 214.4,1075.6 214.4,1077.6 214.5,1079.6 214.5,1081.6 214.6,1083.6 214.7,1085.6 214.7,1087.6 214.8,1089.7 214.8,1091.7 214.9,1093.7 215.0,1095.7 215.0,1097.7 215.1,1099.7 215.2,1101.7 215.2,1103.7 215.3,1105.8 215.4,1107.8 215.4,1109.8 215.5,1111.8 215.6,1113.8 215.6,1115.8 215.7,1117.8 215.8,1119.8 215.9,1121.9 215.9,1123.9 216.0,1125.9 216.1,1127.9 216.2,1129.9 216.2,1131.9 216.3,1133.9 216.4,1135.9 216.5,1137.9 216.6,1139.9 216.7,1142.0 216.7,1144.0 216.8,1146.0 216.9,1148.0 217.0,1150.0 217.1,1152.0 217.2,1154.0 217.3,1156.0 217.4,1158.0 217.5,1160.0 217.6,1162.0 217.7,1164.0 217.8,1166.1 217.9,1168.1 218.0,1170.1 218.2,1172.1 218.3,1174.1 218.4,1176.1 218.6,1178.1 218.7,1180.1 218.9,1182.1 219.0,1184.1 219.2,1186.1 219.3,1188.1 219.5,1190.1 219.7,1192.1 219.9,1194.1 220.1,1196.1 220.3,1198.1 220.6,1200.1 220.8,1202.1 221.0,1204.1 221.3,1206.1 221.5,1208.1 221.8,1210.1 222.1,1212.1 222.4,1214.1 222.6,1216.1 222.9,1218.1 223.2,1220.1 223.5,1222.1 223.8,1224.1 224.1,1226.1 224.3,1228.1 224.6,1230.1 224.9,1232.1 225.2,1234.0 225.5,1236.0 225.7,1238.0 226.0,1240.0 226.3,1242.0 226.5,1244.0 233.5,1238.5 233.7,1236.5 233.8,1234.5 234.0,1232.5 234.1,1230.5 234.3,1228.5 234.5,1226.6 234.6,1224.6 234.8,1222.6 235.0,1220.6 235.1,1218.6 235.3,1216.6 235.5,1214.6 235.6,1212.6 235.8,1210.6 236.0,1208.6 236.1,1206.6 236.3,1204.6 236.5,1202.6 236.7,1200.7 236.8,1198.7 237.0,1196.7 237.2,1194.7 237.3,1192.7 237.5,1190.7 237.7,1188.7 237.9,1186.7 238.0,1184.7 238.2,1182.7 238.4,1180.7 238.5,1178.7 238.7,1176.7 238.9,1174.8 239.1,1172.8 239.2,1170.8 239.4,1168.8 239.6,1166.8 239.8,1164.8 239.9,1162.8 240.1,1160.8 240.3,1158.8 240.5,1156.8 240.6,1154.8 240.8,1152.8 241.0,1150.8 241.2,1148.8 241.3,1146.9 241.5,1144.9 241.7,1142.9 241.8,1140.9 242.0,1138.9 242.2,1136.9 242.4,1134.9 242.5,1132.9 242.7,1130.9 242.9,1128.9 243.0,1126.9 243.2,1124.9 243.4,1122.9 243.6,1120.9 243.7,1118.9 243.9,1117.0 244.1,1115.0 244.2,1113.0 244.4,1111.0 244.6,1109.0 244.7,1107.0 244.9,1105.0 245.1,1103.0 245.2,1101.0 245.4,1099.0 245.6,1097.0 245.7,1095.0 245.9,1093.0 246.0,1091.0 246.2,1089.0 246.4,1087.0 246.5,1085.1 246.7,1083.1 246.8,1081.1 247.0,1079.1 247.2,1077.1 247.3,1075.1 247.5,1073.1 247.6,1071.1 247.8,1069.1 247.9,1067.1 248.1,1065.1 248.2,1063.1 248.4,1061.1 248.6,1059.1 248.7,1057.1 248.9,1055.1 249.0,1053.1 249.2,1051.2 249.3,1049.2 249.5,1047.2 249.6,1045.2 249.8,1043.2 249.9,1041.2 250.1,1039.2 250.2,1037.2 250.4,1035.2 250.5,1033.2 250.7,1031.2 250.8,1029.2 250.9,1027.2 251.1,1025.2 251.2,1023.2 251.4,1021.2 251.5,1019.2 251.7,1017.2 251.8,1015.3 252.0,1013.3 252.1,1011.3 252.3,1009.3 252.4,1007.3 252.6,1005.3 252.7,1003.3 252.9,1001.3 253.0,999.3 253.1,997.3 253.3,995.3 253.4,993.3 253.6,991.3 253.7,989.3 253.9,987.3 254.0,985.3 254.2,983.3 254.3,981.3 254.5,979.4 254.6,977.4 254.7,975.4 254.9,973.4 255.0,971.4 255.2,969.4 255.3,967.4 255.5,965.4 255.6,963.4 255.8,961.4 255.9,959.4 256.1,957.4 256.2,955.4 256.4,953.4 256.5,951.4 256.6,949.4 256.8,947.4 256.9,945.4 257.1,943.5 257.2,941.5 257.4,939.5 257.5,937.5 257.7,935.5 257.8,933.5 258.0,931.5 258.1,929.5 258.3,927.5 258.4,925.5 258.6,923.5 258.7,921.5 258.9,919.5 259.0,917.5 259.2,915.5 259.4,913.5 259.5,911.5 259.7,909.5 259.8,907.6 260.0,905.6 260.1,903.6 260.3,901.6 260.4,899.6 260.6,897.6 260.8,895.6 260.9,893.6 261.1,891.6 261.2,889.6 261.4,887.6 261.6,885.6 261.7,883.6 261.9,881.6 262.0,879.6 262.2,877.6 262.4,875.6 262.5,873.7 262.7,871.7 262.9,869.7 263.0,867.7 263.2,865.7 263.4,863.7 263.5,861.7 263.7,859.7 263.9,857.7 264.0,855.7 264.2,853.7 264.4,851.7 264.6,849.7 264.7,847.7 264.9,845.8 265.1,843.8 265.3,841.8 265.4,839.8 265.6,837.8 265.8,835.8 266.0,833.8 266.2,831.8 266.3,829.8 266.5,827.8 266.7,825.8 266.9,823.8 267.1,821.8 267.3,819.9 267.4,817.9 267.6,815.9 267.8,813.9 268.0,811.9 268.2,809.9 268.4,807.9 268.6,805.9 268.8,803.9 269.0,801.9 269.2,799.9 269.4,798.0 269.6,796.0 269.8,794.0 270.0,792.0 270.2,790.0 270.4,788.0 270.6,786.0 270.8,784.0 271.0,782.0 271.2,780.0 271.4,778.1 271.6,776.1 271.8,774.1 272.0,772.1 272.3,770.1 272.5,768.1 272.7,766.1 272.9,764.1 273.1,762.1 273.3,760.2 273.6,758.2 273.8,756.2 274.0,754.2 274.2,752.2 274.5,750.2 274.7,748.2 274.9,746.2 275.2,744.3 275.4,742.3 275.6,740.3 275.9,738.3 276.1,736.3 276.3,734.3 276.6,732.3 276.8,730.3 277.1,728.4 277.3,726.4 277.5,724.4 277.8,722.4 278.0,720.4 278.3,718.4 278.5,716.4 278.8,714.5 279.0,712.5 279.3,710.5 279.6,708.5 279.8,706.5 280.1,704.5 280.3,702.6 280.6,700.6 280.9,698.6 281.1,696.6 281.4,694.6 281.7,692.6 281.9,690.7 282.2,688.7 282.5,686.7 282.8,684.7 283.1,682.7 283.3,680.7 283.6,678.8 283.9,676.8 284.2,674.8 284.5,672.8 284.8,670.8 285.1,668.9 285.4,666.9 285.6,664.9 285.9,662.9 286.2,660.9 286.5,659.0 286.8,657.0 287.1,655.0 287.3,653.0 287.6,651.0 287.8,649.1 288.0,647.1 288.2,645.1 288.4,643.1 288.6,641.2 288.7,639.2 288.9,637.2 289.0,635.3 289.1,633.3 289.2,631.3 289.4,629.4 289.6,627.4 289.9,625.4 290.3,623.5 290.8,621.5 291.4,619.5 292.0,617.6 292.7,615.6 293.4,613.7 294.1,611.7 294.8,609.8 295.5,607.8 296.2,605.9 296.8,603.9 297.3,602.0 297.9,600.0 298.4,598.1 298.9,596.2 299.4,594.2 299.8,592.3 300.2,590.4 300.7,588.4 301.1,586.5 301.5,584.6 301.9,582.7 302.3,580.7 302.8,578.8 303.2,576.9 303.7,575.0 304.1,573.1 304.6,571.2 305.1,569.3 305.6,567.4 306.2,565.5 306.7,563.6 307.3,561.7 307.9,559.8 308.5,557.9 309.1,556.1 309.7,554.2 310.4,552.3 311.1,550.5 311.8,548.6 312.5,546.7 313.3,544.9 314.1,543.0 314.9,541.2 315.7,539.3 316.6,537.5 317.5,535.7 318.4,533.9 319.4,532.0 320.3,530.3 321.4,528.5 322.5,526.8 323.6,525.1 324.8,523.4 326.0,521.8 327.4,520.3 328.8,518.9 330.3,517.5 331.8,516.2 333.5,515.0 335.2,514.0 337.0,513.0 338.8,512.1 340.7,511.4 342.6,510.8 344.5,510.3 346.4,510.0 348.3,509.8 350.2,509.8 352.1,509.9 353.9,510.1 355.8,510.5 357.7,510.9 359.5,511.5 361.3,512.2 363.2,512.9 365.0,513.7 366.8,514.6 368.6,515.6 370.3,516.6 372.1,517.6 373.9,518.7 375.6,519.8 377.4,520.9 379.1,522.0 380.8,523.2 382.5,524.3 384.2,525.5 385.9,526.6 387.6,527.8 389.2,528.9 390.9,530.1 392.5,531.2 394.2,532.4 395.8,533.6 397.4,534.8 399.0,535.9 400.6,537.1 402.3,538.3 403.9,539.5 405.4,540.7 407.0,541.9 408.6,543.1 410.2,544.3 411.8,545.5 413.3,546.8 414.9,548.0 416.5,549.2 418.0,550.4 419.6,551.7 421.2,552.9 422.7,554.1 424.3,555.4 425.8,556.6 427.4,557.8 429.0,559.0 430.5,560.3 432.1,561.5 433.6,562.7 435.2,564.0 436.8,565.2 438.4,566.4 439.9,567.6 441.5,568.9 443.1,570.1 444.7,571.3 446.3,572.5 447.9,573.7 449.5,574.9 451.1,576.1 452.7,577.3 454.3,578.5 455.9,579.7 457.5,580.9 459.1,582.0 460.7,583.2 462.4,584.3 464.0,585.5 465.6,586.6 467.3,587.8 468.9,588.9 470.6,590.0 472.2,591.1 473.9,592.2 475.5,593.3 477.2,594.4 478.9,595.4 480.5,596.5 482.2,597.6 483.9,598.6 485.6,599.7 487.3,600.7 489.0,601.8 490.6,602.9 492.3,604.0 494.0,605.1 495.7,606.3 497.5,607.5 499.2,608.6 500.9,609.8 502.6,610.9 504.3,612.0 506.0,613.1 507.8,614.1 509.5,615.1 511.2,616.1 513.0,617.0 514.7,617.9 516.4,618.8 518.2,619.6 519.9,620.5 521.7,621.3 523.4,622.2 525.2,623.0 527.0,623.8 528.7,624.7 530.5,625.6 532.3,626.5 534.0,627.4 535.8,628.4 537.6,629.3 539.4,630.3 541.1,631.3 542.9,632.3 544.7,633.3 546.5,634.3 548.3,635.3 550.1,636.3 551.9,637.3 553.7,638.3 555.5,639.2 557.3,640.2 559.1,641.1 560.9,642.0 562.7,642.8 564.5,643.7 566.4,644.5 568.2,645.3 570.0,646.1 571.8,646.8 573.7,647.6 575.5,648.3 577.3,649.1 579.1,649.8 581.0,650.5 582.8,651.2 584.7,651.9 586.5,652.6 588.3,653.4 590.2,654.1 592.0,654.8 593.9,655.6 595.7,656.3 597.6,657.1 599.4,657.9 601.3,658.7 603.1,659.5 605.0,660.4 606.8,661.2 608.7,662.1 610.6,662.9 612.4,663.8 614.3,664.6 616.2,665.3 618.0,666.1 619.9,666.8 621.8,667.4 623.7,668.1 625.5,668.7 627.4,669.2 629.3,669.8 631.2,670.3 633.0,670.9 634.9,671.4 636.8,672.0 638.7,672.5 640.6,673.1 642.4,673.7 644.3,674.3 646.2,674.9 648.1,675.5 650.0,676.2 651.9,676.9 653.8,677.6 655.7,678.4 657.6,679.1 659.5,679.8 661.4,680.5 663.3,681.2 665.2,681.8 667.1,682.5 669.0,683.1 670.9,683.8 672.8,684.4 674.7,685.0 676.6,685.6 678.5,686.2 680.4,686.8 682.3,687.4 684.2,687.9 686.2,688.5 688.1,689.0 690.0,689.6 691.9,690.1 693.8,690.6 695.7,691.2 697.7,691.7 699.6,692.2 701.5,692.7 703.4,693.2 705.3,693.7 707.3,694.3 709.2,694.8 711.1,695.3 713.0,695.8 715.0,696.3 716.9,696.8 718.8,697.3 720.8,697.8 722.7,698.3 724.6,698.8 726.6,699.3 728.5,699.8 730.4,700.3 732.4,700.8 734.3,701.3 736.2,701.8 738.2,702.3 740.1,702.8 742.1,703.3 744.0,703.8 745.9,704.2 747.9,704.7 749.8,705.2 751.8,705.7 753.7,706.1 755.7,706.6 757.6,707.1 759.6,707.5 761.5,708.0 763.5,708.5 765.4,708.9 767.4,709.4 769.3,709.8 771.3,710.3 773.2,710.7 775.2,711.1 777.1,711.6 779.1,712.0 781.0,712.4 783.0,712.9 784.9,713.3 786.9,713.7 788.9,714.1 790.8,714.6 792.8,715.0 794.7,715.4 796.7,715.8 798.7,716.2 800.6,716.6 802.6,717.0 804.5,717.4 806.5,717.8 808.5,718.2 810.4,718.6 812.4,719.0 814.4,719.4 816.3,719.7 818.3,720.1 820.3,720.5 822.2,720.9 824.2,721.3 826.2,721.6 828.1,722.0 830.1,722.4 832.1,722.7 834.0,723.1 836.0,723.5 838.0,723.8 839.9,724.2 841.9,724.5 843.9,724.9 845.8,725.2 847.8,725.6 849.8,725.9 851.8,726.3 853.7,726.6 855.7,727.0 857.7,727.3 859.7,727.7 861.6,728.0 863.6,728.3 865.6,728.7 867.6,729.0 869.5,729.3 871.5,729.7 873.5,730.0 875.5,730.3 877.4,730.7 879.4,731.0 881.4,731.3 883.4,731.6 885.3,731.9 887.3,732.3 889.3,732.6 891.3,732.9 893.2,733.2 895.2,733.5 897.2,733.8 899.2,734.2 901.1,734.5 903.1,734.8 905.1,735.1 907.1,735.4 909.1,735.7 911.0,736.0 913.0,736.3 915.0,736.6 917.0,736.9 918.9,737.2 920.9,737.5 922.9,737.8 924.9,738.1 926.9,738.4 928.8,738.7 930.8,739.0 932.8,739.2 934.8,739.5 936.7,739.8 938.7,740.1 940.7,740.4 942.7,740.6 944.7,740.9 946.6,741.2 948.6,741.4 950.6,741.7 952.6,742.0 954.6,742.2 956.5,742.5 958.5,742.7 960.5,743.0 962.5,743.3 964.5,743.5 966.4,743.8 968.4,744.0 970.4,744.3 972.4,744.5 974.4,744.8 976.4,745.0 978.3,745.3 980.3,745.5 982.3,745.8 984.3,746.0 986.3,746.2 988.2,746.5 990.2,746.7 992.2,747.0 994.2,747.2 996.2,747.5 998.2,747.7 1000.1,747.9 1002.1,748.2 1004.1,748.4 1006.1,748.7 1008.1,748.9 1010.1,749.1 1012.0,749.4 1014.0,749.6 1016.0,749.8 1018.0,750.1 1020.0,750.3 1022.0,750.5 1023.9,750.7 1025.9,751.0 1027.9,751.2 1029.9,751.4 1031.9,751.6 1033.9,751.9 1035.9,752.1 1037.8,752.3 1039.8,752.5 1041.8,752.7 1043.8,752.9 1045.8,753.2 1047.8,753.4 1049.8,753.6 1051.7,753.8 1053.7,754.0 1055.7,754.2 1057.7,754.4 1059.7,754.6 1061.7,754.8 1063.7,755.0 1065.7,755.2 1067.6,755.4 1069.6,755.6 1071.6,755.8 1073.6,756.0 1075.6,756.2 1077.6,756.3 1079.6,756.5 1081.6,756.7 1083.6,756.9 1085.5,757.1 1087.5,757.3 1089.5,757.4 1091.5,757.6 1093.5,757.8 1095.5,758.0 1097.5,758.1 1099.5,758.3 1101.5,758.5 1103.5,758.6 1105.5,758.8 1107.4,759.0 1109.4,759.1 1111.4,759.3 1113.4,759.5 1115.4,759.6 1117.4,759.8 1119.4,759.9 1121.4,760.1 1123.4,760.3 1125.4,760.4 1127.4,760.6 1129.4,760.7 1131.4,760.9 1133.4,761.0 1135.4,761.2 1137.3,761.3 1139.3,761.4 1141.3,761.6 1143.3,761.7 1145.3,761.9 1147.3,762.0 1149.3,762.1 1151.3,762.3 1153.3,762.4 1155.3,762.5 1157.3,762.7 1159.3,762.8 1161.3,762.9 1163.3,763.1 1165.3,763.2 1167.3,763.3 1169.3,763.4 1171.3,763.5 1173.3,763.7 1175.3,763.8 1177.3,763.9 1179.3,764.0 1181.3,764.1 1183.3,764.2 1185.3,764.4 1187.3,764.5 1189.3,764.6 1191.3,764.7 1193.3,764.8 1195.3,764.9 1197.3,765.0 1199.3,765.1 1201.3,765.2 1203.3,765.3 1205.3,765.4 1207.3,765.5 1209.3,765.6 1211.3,765.7 1213.3,765.8 1215.3,765.9 1217.3,765.9 1219.3,766.0 1221.3,766.1 1223.3,766.2 1225.3,766.3 1227.3,766.4 1229.3,766.4 1231.3,766.5 1233.3,766.6 1235.3,766.7 1237.3,766.7 1239.3,766.8 1241.3,766.9 1243.3,766.9 1245.3,767.0 1247.3,767.1 1249.4,767.1 1251.4,767.2 1253.4,767.2 1255.4,767.3 1257.4,767.3 1259.4,767.4 1261.4,767.4 1263.4,767.5 1265.4,767.5 1267.4,767.6 1269.4,767.6 1271.4,767.6 1273.4,767.7 1275.4,767.7 1277.4,767.7 1279.4,767.8 1281.4,767.8 1283.4,767.8 1285.4,767.8 1287.4,767.9 1289.4,767.9 1291.4,767.9 1293.4,767.9 1295.4,767.9 1297.4,767.9 1299.4,767.9 1301.4,767.9 1303.4,767.9 1305.4,767.9 1307.4,767.9 1309.4,767.9 1311.4,767.9 1313.4,767.9 1315.4,767.9 1317.4,767.8 1319.4,767.8 1321.4,767.8 1323.4,767.8 1325.4,767.7 1327.4,767.7 1329.4,767.7 1331.4,767.6 1333.4,767.6 1335.4,767.6 1337.4,767.5 1339.4,767.5 1341.4,767.4 1343.4,767.3 1345.4,767.3 1347.4,767.2 1349.4,767.2 1351.4,767.1 1353.4,767.0 1355.4,766.9 1357.4,766.8 1359.4,766.8 1361.4,766.7 1363.3,766.6 1365.3,766.5 1367.3,766.4 1369.3,766.3 1371.3,766.2 1373.3,766.0 1375.3,765.9 1377.3,765.8 1379.3,765.7 1381.3,765.5 1383.3,765.4 1385.2,765.2 1387.2,765.1 1389.2,764.9 1391.2,764.7 1393.2,764.6 1395.2,764.4 1397.2,764.2 1399.1,764.0 1401.1,763.8 1403.1,763.6 1405.1,763.4 1407.1,763.2 1409.0,763.0 1411.0,762.8 1413.0,762.6 1415.0,762.3 1417.0,762.1 1418.9,761.9 1420.9,761.6 1422.9,761.4 1424.9,761.1 1426.9,760.8 1428.8,760.6 1430.8,760.3 1432.8,760.1 1434.7,759.8 1436.7,759.5 1438.7,759.3 1440.7,759.0 1442.6,758.7 1444.6,758.4 1446.6,758.2 1448.5,757.9 1450.5,757.6 1452.5,757.4 1454.4,757.1 1456.4,756.8 1458.4,756.5 1460.3,756.2 1462.3,755.9 1464.3,755.6 1466.2,755.3 1468.2,754.9 1470.1,754.5 1472.1,754.2 1474.1,753.8 1476.0,753.3 1478.0,752.9 1479.9,752.4 1481.8,751.9 1483.8,751.4 1485.7,750.8 1487.7,750.3 1489.6,749.6 1491.5,749.0 1493.4,748.3 1495.3,747.5 1497.2,746.7 1499.1,745.9 1501.0,745.1 1502.9,744.2 1504.8,743.4 1506.7,742.5 1508.5,741.6 1510.4,740.8 1512.2,739.9 1514.1,739.1 1515.9,738.2 1517.7,737.4 1519.5,736.6 1521.3,735.7 1523.1,734.9 1524.9,734.0 1526.7,733.1 1528.4,732.2 1530.2,731.3 1531.9,730.4 1533.6,729.5 1535.3,728.5 1537.0,727.6 1538.7,726.5 1540.4,725.5 1542.0,724.5 1543.7,723.4 1545.3,722.2 1546.9,721.1 1548.5,719.9 1550.1,718.7 1551.6,717.4 1553.1,716.1 1554.7,714.8 1556.2,713.4 1557.6,712.0 1559.1,710.6 1560.5,709.2 1561.9,707.7 1563.3,706.3 1564.7,704.7 1566.0,703.2 1567.3,701.7 1568.5,700.1 1569.8,698.5 1571.0,696.9 1572.1,695.3 1573.3,693.6 1574.4,692.0 1575.5,690.3 1576.5,688.6 1577.5,686.9 1578.5,685.2 1579.5,683.5 1580.5,681.7 1581.4,680.0 1582.4,678.2 1583.3,676.5 1584.2,674.7 1585.1,673.0 1586.0,671.2 1587.0,669.4 1587.9,667.6 1588.8,665.9 1589.7,664.1 1590.6,662.3 1591.5,660.5 1592.4,658.7 1593.3,656.9 1594.2,655.1 1595.1,653.3 1596.0,651.5 1596.8,649.7 1597.6,647.9 1598.5,646.1 1599.3,644.3 1600.1,642.5 1600.9,640.6 1601.6,638.8 1602.4,636.9 1603.1,635.1 1603.8,633.3 1604.5,631.4 1605.2,629.6 1605.9,627.7 1606.6,625.8 1607.2,624.0 1607.9,622.1 1608.5,620.2 1609.1,618.3 1609.8,616.4 1610.4,614.5 1611.0,612.6 1611.6,610.7 1612.3,608.8 1612.9,606.9 1613.5,605.0 1614.1,603.0 1614.8,601.1 1615.4,599.2 1616.1,597.2 1616.7,595.3 1617.4,593.3 1618.0,591.4 1618.7,589.4 1619.4,587.5 1620.0,585.5 1620.7,583.6 1621.4,581.7 1622.1,579.8 1622.8,577.9 1623.4,576.0 1624.1,574.1 1624.8,572.3 1625.5,570.5 1626.2,568.7 1626.8,566.9 1627.5,565.1 1628.2,563.4 1628.8,561.7 1629.5,560.0 1630.1,558.4 1631.1,556.9 1632.5,555.5 1635.0,554.5 1636.9,555.4 1638.5,556.6 1639.9,557.9 1641.2,559.3 1642.3,560.9 1643.2,562.6 1644.0,564.4 1644.6,566.2 1645.2,568.1 1645.7,570.1 1646.1,572.1 1646.5,574.1 1646.9,576.1 1647.2,578.1 1647.5,580.1 1647.8,582.1 1648.0,584.1 1648.2,586.1 1648.4,588.1 1648.6,590.1 1648.8,592.1 1648.9,594.2 1649.1,596.2 1649.3,598.2 1649.5,600.2 1649.6,602.2 1649.8,604.2 1650.0,606.2 1650.3,608.2 1650.5,610.2 1650.8,612.2 1651.1,614.2 1651.4,616.2 1651.7,618.2 1652.1,620.2 1652.6,622.2 1653.0,624.2 1653.4,626.2 1653.9,628.2 1654.3,630.2 1654.7,632.2 1655.1,634.2 1655.5,636.2 1655.8,638.1 1656.1,640.1 1656.4,642.1 1656.7,644.1 1656.9,646.1 1657.1,648.1 1657.3,650.1 1657.5,652.0 1657.7,654.0 1657.9,656.0 1658.0,658.0 1658.2,660.0 1658.3,662.0 1658.5,664.0 1658.7,666.0 1658.8,667.9 1659.0,669.9 1659.2,671.9 1659.3,673.9 1659.5,675.9 1659.7,677.9 1659.9,679.9 1660.1,681.9 1660.3,683.9 1660.5,685.9 1660.8,687.9 1661.0,689.9 1661.3,691.9 1661.6,693.9 1661.9,696.0 1662.2,698.0 1662.5,700.0"/>
<polyline stroke="#ff8000" stroke-width="7" stroke-dasharray="29 6.8 6 6.8 6 6.9" stroke-dashoffset="8.8" points="210.5,985.0 210.6,987.0 210.8,989.0 210.9,991.0 211.1,993.0 211.2,995.0 211.3,997.0 211.4,999.0 211.6,1001.0 211.7,1003.0 211.8,1005.0 211.9,1007.0 212.0,1009.0 212.1,1011.0 212.2,1013.0 212.3,1015.0 212.4,1017.0 212.5,1019.0 212.6,1021.0 212.6,1023.0 212.7,1025.0 212.8,1027.0 212.9,1029.0 212.9,1031.1 213.0,1033.1 213.1,1035.1 213.1,1037.1 213.2,1039.1 213.2,1041.1 213.3,1043.1 213.3,1045.1 213.4,1047.1 213.4,1049.1 213.5,1051.1 213.5,1053.1 213.6,1055.1 213.6,1057.1 213.7,1059.1 213.7,1061.1 213.8,1063.2 213.8,1065.2 213.8,1067.2 213.9,1069.2 213.9,1071.2 214.0,1073.2 214.0,1075.2 214.0,1077.2 214.1,1079.2 214.1,1081.2 214.1,1083.2 214.2,1085.2 214.2,1087.3 214.3,1089.3 214.3,1091.3 214.3,1093.3 214.4,1095.3 214.4,1097.3 214.5,1099.3 214.5,1101.3 214.5,1103.3 214.6,1105.3 214.6,1107.4 214.7,1109.4 214.7,1111.4 214.8,1113.4 214.8,1115.4 214.9,1117.4 214.9,1119.4 215.0,1121.4 215.0,1123.4 215.1,1125.4 215.2,1127.5 215.2,1129.5 215.3,1131.5 215.4,1133.5 215.4,1135.5 215.5,1137.5 215.6,1139.5 215.6,1141.5 215.7,1143.5 215.8,1145.5 215.9,1147.5 215.9,1149.6 216.0,1151.6 216.1,1153.6 216.2,1155.6 216.3,1157.6 216.3,1159.6 216.4,1161.6 216.5,1163.6 216.6,1165.6 216.7,1167.6 216.8,1169.6 216.9,1171.7 217.0,1173.7 217.1,1175.7 217.1,1177.7 217.2,1179.7 217.3,1181.7 217.4,1183.7 217.5,1185.7 217.6,1187.7 217.7,1189.7 217.8,1191.7 217.9,1193.7 218.0,1195.8 218.1,1197.8 218.2,1199.8 218.3,1201.8 218.4,1203.8 218.5,1205.8 218.6,1207.8 218.7,1209.8 218.8,1211.8 218.8,1213.8 218.9,1215.8 219.0,1217.8 219.1,1219.8 219.2,1221.8 219.3,1223.8 219.4,1225.8 219.5,1227.8 219.6,1229.8 219.7,1231.8 219.8,1233.9 219.9,1235.9 220.0,1237.9 220.1,1239.9 220.2,1241.9 220.3,1243.9 220.4,1245.9 220.5,1247.9 220.6,1249.9 220.7,1251.9 220.8,1253.9 220.9,1255.9 221.0,1257.9 221.2,1259.9 221.3,1261.9 221.4,1263.9 221.5,1265.9 221.6,1267.9 221.7,1269.9 221.9,1271.9 222.0,1273.9 222.1,1275.9 222.2,1277.9 222.4,1279.9 222.5,1281.9 222.6,1283.9 222.8,1285.8 222.9,1287.8 223.1,1289.8 223.2,1291.8 223.4,1293.8 223.5,1295.8 223.7,1297.8 223.9,1299.8 224.1,1301.8 224.2,1303.8 224.4,1305.8 224.6,1307.8 224.8,1309.8 225.1,1311.8 225.3,1313.7 225.5,1315.7 225.8,1317.7 226.0,1319.7 226.3,1321.7 226.6,1323.7 226.8,1325.7 227.1,1327.7 227.5,1329.7 227.8,1331.6 228.1,1333.6 228.5,1335.6 228.9,1337.6 229.2,1339.6 229.6,1341.6 230.1,1343.6 230.5,1345.5 230.9,1347.5 231.4,1349.5 232.2,1347.6 232.9,1345.6 233.6,1343.7 234.2,1341.8 234.9,1339.8 235.4,1337.9 236.0,1336.0 236.5,1334.0 237.0,1332.1 237.5,1330.1 237.9,1328.2 238.3,1326.3 238.7,1324.3 239.1,1322.4 239.4,1320.4 239.8,1318.5 240.1,1316.5 240.4,1314.5 240.7,1312.6 241.0,1310.6 241.2,1308.7 241.5,1306.7 241.7,1304.7 242.0,1302.8 242.2,1300.8 242.4,1298.8 242.6,1296.9 242.9,1294.9 243.1,1292.9 243.3,1290.9 243.5,1289.0 243.7,1287.0 243.9,1285.0 244.1,1283.0 244.3,1281.1 244.5,1279.1 244.6,1277.1 244.8,1275.1 245.0,1273.1 245.2,1271.2 245.4,1269.2 245.5,1267.2 245.7,1265.2 245.9,1263.2 246.1,1261.2 246.3,1259.2 246.4,1257.2 246.6,1255.3 246.8,1253.3 247.0,1251.3 247.1,1249.3 247.3,1247.3 247.5,1245.3 247.7,1243.3 247.8,1241.3 248.0,1239.3 248.2,1237.3 248.3,1235.3 248.5,1233.3 248.7,1231.3 248.9,1229.3 249.0,1227.3 249.2,1225.3 249.4,1223.3 249.5,1221.3 249.7,1219.3 249.9,1217.4 250.0,1215.4 250.2,1213.4 250.4,1211.4 250.5,1209.4 250.7,1207.4 250.9,1205.4 251.0,1203.4 251.2,1201.4 251.4,1199.4 251.5,1197.4 251.7,1195.4 251.9,1193.4 252.0,1191.4 252.2,1189.4 252.4,1187.4 252.5,1185.4 252.7,1183.4 252.8,1181.4 253.0,1179.4 253.2,1177.4 253.3,1175.4 253.5,1173.4 253.6,1171.4 253.8,1169.4 254.0,1167.4 254.1,1165.4 254.3,1163.4 254.4,1161.4 254.6,1159.4 254.8,1157.5 254.9,1155.5 255.1,1153.5 255.2,1151.5 255.4,1149.5 255.5,1147.5 255.7,1145.5 255.9,1143.5 256.0,1141.5 256.2,1139.5 256.3,1137.5 256.5,1135.5 256.6,1133.5 256.8,1131.5 257.0,1129.5 257.1,1127.5 257.3,1125.6 257.4,1123.6 257.6,1121.6 257.7,1119.6 257.9,1117.6 258.0,1115.6 258.2,1113.6 258.4,1111.6 258.5,1109.6 258.7,1107.6 258.8,1105.6 259.0,1103.6 259.1,1101.6 259.3,1099.7 259.5,1097.7 259.6,1095.7 259.8,1093.7 259.9,1091.7 260.1,1089.7 260.2,1087.7 260.4,1085.7 260.5,1083.7 260.7,1081.7 260.9,1079.7 261.0,1077.7 261.2,1075.8 261.3,1073.8 261.5,1071.8 261.6,1069.8 261.8,1067.8 262.0,1065.8 262.1,1063.8 262.3,1061.8 262.4,1059.8 262.6,1057.8 262.7,1055.8 262.9,1053.8 263.1,1051.9 263.2,1049.9 263.4,1047.9 263.5,1045.9 263.7,1043.9 263.9,1041.9 264.0,1039.9 264.2,1037.9 264.3,1035.9 264.5,1033.9 264.7,1031.9 264.8,1029.9 265.0,1027.9 265.1,1026.0 265.3,1024.0 265.5,1022.0 265.6,1020.0 265.8,1018.0 266.0,1016.0 266.1,1014.0 266.3,1012.0 266.4,1010.0 266.6,1008.0 266.8,1006.0 266.9,1004.0 267.1,1002.0 267.3,1000.0 267.4,998.1 267.6,996.1 267.8,994.1 267.9,992.1 268.1,990.1 268.3,988.1 268.4,986.1 268.6,984.1 268.8,982.1 269.0,980.1 269.1,978.1 269.3,976.1 269.5,974.1 269.6,972.2 269.8,970.2 270.0,968.2 270.2,966.2 270.3,964.2 270.5,962.2 270.7,960.2 270.9,958.2 271.0,956.2 271.2,954.2 271.4,952.2 271.6,950.2 271.7,948.3 271.9,946.3 272.1,944.3 272.3,942.3 272.5,940.3 272.7,938.3 272.8,936.3 273.0,934.3 273.2,932.3 273.4,930.3 273.6,928.3 273.8,926.3 273.9,924.4 274.1,922.4 274.3,920.4 274.5,918.4 274.7,916.4 274.9,914.4 275.1,912.4 275.3,910.4 275.5,908.4 275.6,906.4 275.8,904.4 276.0,902.4 276.2,900.5 276.4,898.5 276.6,896.5 276.8,894.5 277.0,892.5 277.2,890.5 277.4,888.5 277.6,886.5 277.8,884.5 278.0,882.5 278.2,880.6 278.4,878.6 278.6,876.6 278.8,874.6 279.0,872.6 279.2,870.6 279.4,868.6 279.6,866.6 279.8,864.6 280.0,862.7 280.2,860.7 280.4,858.7 280.6,856.7 280.8,854.7 281.0,852.7 281.2,850.7 281.4,848.7 281.6,846.7 281.8,844.8 282.0,842.8 282.2,840.8 282.4,838.8 282.6,836.8 282.8,834.8 283.0,832.8 283.2,830.8 283.4,828.9 283.6,826.9 283.8,824.9 284.0,822.9 284.2,820.9 284.5,818.9 284.7,816.9 284.9,814.9 285.1,813.0 285.3,811.0 285.5,809.0 285.8,807.0 286.0,805.0 286.2,803.0 286.4,801.0 286.7,799.1 286.9,797.1 287.1,795.1 287.4,793.1 287.6,791.1 287.9,789.1 288.1,787.2 288.4,785.2 288.6,783.2 288.9,781.2 289.2,779.2 289.4,777.2 289.7,775.2 290.0,773.3 290.3,771.3 290.6,769.3 290.9,767.3 291.1,765.3 291.4,763.4 291.7,761.4 292.0,759.4 292.3,757.4 292.6,755.4 292.9,753.4 293.2,751.5 293.5,749.5 293.8,747.5 294.1,745.5 294.4,743.5 294.7,741.6 294.9,739.6 295.2,737.6 295.5,735.6 295.8,733.6 296.1,731.7 296.3,729.7 296.6,727.7 296.9,725.7 297.2,723.8 297.5,721.8 297.7,719.8 298.0,717.8 298.3,715.9 298.6,713.9 298.9,711.9 299.2,709.9 299.6,708.0 299.9,706.0 300.2,704.0 300.6,702.0 300.9,700.1 301.2,698.1 301.6,696.1 302.0,694.2 302.3,692.2 302.7,690.2 303.0,688.3 303.4,686.3 303.7,684.3 304.1,682.4 304.4,680.4 304.7,678.4 305.1,676.5 305.4,674.5 305.7,672.5 306.1,670.6 306.4,668.6 306.7,666.7 307.1,664.7 307.4,662.7 307.8,660.8 308.1,658.8 308.5,656.9 308.9,654.9 309.2,652.9 309.6,651.0 310.0,649.0 310.5,647.1 310.9,645.1 311.3,643.2 311.7,641.2 312.2,639.3 312.6,637.3 313.1,635.4 313.5,633.4 314.0,631.5 314.4,629.5 314.9,627.6 315.4,625.6 315.8,623.7 316.3,621.8 316.8,619.8 317.2,617.9 317.7,615.9 318.2,614.0 318.7,612.1 319.2,610.1 319.7,608.2 320.2,606.3 320.7,604.3 321.3,602.4 321.8,600.5 322.3,598.6 322.9,596.7 323.5,594.7 324.0,592.8 324.6,590.9 325.2,589.0 325.8,587.1 326.5,585.2 327.1,583.3 327.7,581.4 328.4,579.5 329.1,577.7 329.8,575.8 330.5,573.9 331.2,572.0 331.9,570.1 332.7,568.3 333.5,566.4 334.2,564.6 335.0,562.7 335.9,560.9 336.7,559.0 337.6,557.2 338.5,555.4 339.4,553.6 340.3,551.8 341.3,550.0 342.3,548.3 343.3,546.5 344.4,544.8 345.6,543.2 346.7,541.5 347.9,540.0 349.2,538.4 350.5,536.9 351.8,535.4 353.2,534.0 354.7,532.6 356.2,531.3 357.8,530.0 359.4,528.8 361.1,527.6 362.8,526.5 364.5,525.5 366.3,524.5 368.1,523.6 370.0,522.8 371.8,522.0 373.7,521.4 375.6,520.8 377.5,520.3 379.4,519.8 381.3,519.5 383.2,519.2 385.1,519.1 387.0,519.0 388.9,519.0 390.8,519.1 392.7,519.2 394.6,519.5 396.5,519.9 398.4,520.3 400.3,520.8 402.1,521.5 404.0,522.2 405.9,522.9 407.8,523.8 409.7,524.6 411.5,525.5 413.4,526.4 415.3,527.3 417.1,528.3 419.0,529.2 420.8,530.1 422.6,531.0 424.5,531.9 426.3,532.9 428.1,533.8 429.9,534.7 431.7,535.7 433.5,536.6 435.3,537.5 437.1,538.5 438.9,539.4 440.7,540.4 442.4,541.3 444.2,542.3 445.9,543.2 447.7,544.2 449.4,545.1 451.1,546.1 452.9,547.1 454.6,548.1 456.3,549.0 458.0,550.0 459.7,551.0 461.4,552.1 463.1,553.1 464.8,554.1 466.5,555.1 468.2,556.2 469.9,557.2 471.6,558.3 473.3,559.4 475.0,560.4 476.7,561.5 478.4,562.6 480.1,563.6 481.8,564.7 483.5,565.7 485.2,566.8 487.0,567.8 488.7,568.8 490.4,569.8 492.1,570.8 493.8,571.7 495.5,572.7 497.2,573.7 499.0,574.6 500.7,575.5 502.4,576.5 504.2,577.4 505.9,578.3 507.6,579.3 509.4,580.2 511.1,581.1 512.9,582.1 514.6,583.0 516.4,583.9 518.1,584.9 519.9,585.9 521.6,586.8 523.4,587.8 525.1,588.8 526.9,589.8 528.7,590.9 530.4,591.9 532.2,593.0 534.0,594.1 535.7,595.2 537.5,596.2 539.3,597.3 541.1,598.3 542.9,599.3 544.6,600.2 546.4,601.2 548.2,602.1 550.0,602.9 551.8,603.8 553.6,604.6 555.4,605.4 557.2,606.2 559.0,607.0 560.8,607.7 562.6,608.5 564.4,609.3 566.2,610.1 568.0,610.8 569.8,611.6 571.6,612.4 573.4,613.2 575.3,614.0 577.1,614.8 578.9,615.6 580.7,616.4 582.5,617.2 584.4,618.0 586.2,618.8 588.0,619.6 589.8,620.4 591.7,621.2 593.5,622.0 595.3,622.8 597.2,623.7 599.0,624.5 600.8,625.3 602.7,626.1 604.5,626.9 606.4,627.7 608.2,628.5 610.1,629.2 611.9,630.0 613.7,630.8 615.6,631.6 617.4,632.4 619.3,633.1 621.2,633.9 623.0,634.7 624.9,635.4 626.7,636.2 628.6,636.9 630.4,637.7 632.3,638.4 634.2,639.1 636.0,639.9 637.9,640.6 639.8,641.3 641.6,642.0 643.5,642.7 645.4,643.4 647.2,644.1 649.1,644.8 651.0,645.5 652.9,646.2 654.7,646.8 656.6,647.5 658.5,648.2 660.4,648.9 662.3,649.5 664.1,650.2 666.0,650.8 667.9,651.5 669.8,652.1 671.7,652.8 673.6,653.4 675.5,654.1 677.4,654.7 679.3,655.3 681.1,656.0 683.0,656.6 684.9,657.2 686.8,657.8 688.7,658.5 690.6,659.1 692.5,659.7 694.4,660.3 696.3,660.9 698.2,661.5 700.1,662.1 702.0,662.7 704.0,663.3 705.9,663.9 707.8,664.5 709.7,665.1 711.6,665.6 713.5,666.2 715.4,666.8 717.3,667.4 719.2,668.0 721.2,668.5 723.1,669.1 725.0,669.7 726.9,670.2 728.8,670.8 730.7,671.3 732.7,671.9 734.6,672.4 736.5,673.0 738.4,673.5 740.4,674.0 742.3,674.6 744.2,675.1 746.1,675.6 748.1,676.2 750.0,676.7 751.9,677.2 753.8,677.7 755.8,678.2 757.7,678.8 759.6,679.3 761.6,679.8 763.5,680.3 765.4,680.8 767.4,681.3 769.3,681.7 771.3,682.2 773.2,682.7 775.1,683.2 777.1,683.7 779.0,684.2 780.9,684.6 782.9,685.1 784.8,685.6 786.8,686.1 788.7,686.5 790.7,687.0 792.6,687.5 794.5,687.9 796.5,688.4 798.4,688.8 800.4,689.3 802.3,689.8 804.3,690.2 806.2,690.7 808.2,691.1 810.1,691.6 812.1,692.0 814.0,692.5 816.0,693.0 817.9,693.4 819.9,693.9 821.8,694.3 823.8,694.7 825.7,695.2 827.7,695.6 829.6,696.1 831.6,696.5 833.6,696.9 835.5,697.4 837.5,697.8 839.4,698.2 841.4,698.7 843.3,699.1 845.3,699.5 847.3,699.9 849.2,700.3 851.2,700.8 853.1,701.2 855.1,701.6 857.1,702.0 859.0,702.4 861.0,702.8 862.9,703.2 864.9,703.6 866.9,704.0 868.8,704.4 870.8,704.8 872.8,705.2 874.7,705.6 876.7,706.0 878.6,706.3 880.6,706.7 882.6,707.1 884.5,707.5 886.5,707.9 888.5,708.2 890.4,708.6 892.4,709.0 894.4,709.4 896.3,709.7 898.3,710.1 900.3,710.5 902.2,710.8 904.2,711.2 906.2,711.5 908.1,711.9 910.1,712.2 912.1,712.6 914.0,712.9 916.0,713.3 918.0,713.6 919.9,714.0 921.9,714.3 923.9,714.7 925.8,715.0 927.8,715.3 929.8,715.7 931.8,716.0 933.7,716.4 935.7,716.7 937.7,717.0 939.6,717.3 941.6,717.7 943.6,718.0 945.5,718.3 947.5,718.6 949.5,719.0 951.5,719.3 953.4,719.6 955.4,719.9 957.4,720.2 959.4,720.5 961.3,720.8 963.3,721.1 965.3,721.4 967.2,721.7 969.2,722.0 971.2,722.4 973.2,722.6 975.1,722.9 977.1,723.2 979.1,723.5 981.1,723.8 983.0,724.1 985.0,724.4 987.0,724.7 989.0,725.0 990.9,725.3 992.9,725.6 994.9,725.8 996.9,726.1 998.8,726.4 1000.8,726.7 1002.8,727.0 1004.8,727.2 1006.8,727.5 1008.7,727.8 1010.7,728.0 1012.7,728.3 1014.7,728.6 1016.7,728.9 1018.6,729.1 1020.6,729.4 1022.6,729.6 1024.6,729.9 1026.6,730.2 1028.5,730.4 1030.5,730.7 1032.5,730.9 1034.5,731.2 1036.5,731.4 1038.4,731.7 1040.4,731.9 1042.4,732.2 1044.4,732.4 1046.4,732.7 1048.3,732.9 1050.3,733.2 1052.3,733.4 1054.3,733.7 1056.3,733.9 1058.3,734.1 1060.2,734.4 1062.2,734.6 1064.2,734.9 1066.2,735.1 1068.2,735.3 1070.2,735.6 1072.2,735.8 1074.1,736.0 1076.1,736.2 1078.1,736.5 1080.1,736.7 1082.1,736.9 1084.1,737.1 1086.1,737.4 1088.0,737.6 1090.0,737.8 1092.0,738.0 1094.0,738.2 1096.0,738.4 1098.0,738.7 1100.0,738.9 1102.0,739.1 1103.9,739.3 1105.9,739.5 1107.9,739.7 1109.9,739.9 1111.9,740.1 1113.9,740.3 1115.9,740.5 1117.9,740.7 1119.9,740.9 1121.9,741.1 1123.8,741.3 1125.8,741.5 1127.8,741.7 1129.8,741.9 1131.8,742.1 1133.8,742.3 1135.8,742.5 1137.8,742.6 1139.8,742.8 1141.8,743.0 1143.8,743.2 1145.8,743.4 1147.8,743.6 1149.7,743.7 1151.7,743.9 1153.7,744.1 1155.7,744.3 1157.7,744.4 1159.7,744.6 1161.7,744.8 1163.7,744.9 1165.7,745.1 1167.7,745.3 1169.7,745.4 1171.7,745.6 1173.7,745.8 1175.7,745.9 1177.7,746.1 1179.7,746.2 1181.7,746.4 1183.7,746.6 1185.7,746.7 1187.7,746.9 1189.7,747.0 1191.7,747.2 1193.7,747.3 1195.7,747.5 1197.7,747.6 1199.7,747.7 1201.7,747.9 1203.7,748.0 1205.7,748.2 1207.7,748.3 1209.7,748.4 1211.7,748.6 1213.7,748.7 1215.7,748.8 1217.7,748.9 1219.7,749.1 1221.7,749.2 1223.7,749.3 1225.7,749.4 1227.7,749.5 1229.7,749.6 1231.7,749.8 1233.7,749.9 1235.7,750.0 1237.7,750.1 1239.7,750.2 1241.7,750.3 1243.7,750.4 1245.7,750.5 1247.7,750.6 1249.7,750.7 1251.7,750.8 1253.7,750.9 1255.7,750.9 1257.7,751.0 1259.7,751.1 1261.7,751.2 1263.7,751.3 1265.7,751.3 1267.7,751.4 1269.7,751.5 1271.7,751.5 1273.7,751.6 1275.7,751.7 1277.7,751.7 1279.7,751.8 1281.7,751.8 1283.7,751.9 1285.7,751.9 1287.7,752.0 1289.7,752.0 1291.7,752.1 1293.7,752.1 1295.7,752.2 1297.7,752.2 1299.7,752.2 1301.7,752.2 1303.7,752.3 1305.7,752.3 1307.7,752.3 1309.7,752.3 1311.7,752.3 1313.7,752.4 1315.7,752.4 1317.7,752.4 1319.7,752.4 1321.6,752.4 1323.6,752.4 1325.6,752.4 1327.6,752.4 1329.6,752.3 1331.6,752.3 1333.6,752.3 1335.6,752.3 1337.6,752.3 1339.6,752.2 1341.6,752.2 1343.6,752.2 1345.6,752.1 1347.6,752.1 1349.6,752.0 1351.6,752.0 1353.6,751.9 1355.6,751.8 1357.6,751.8 1359.5,751.7 1361.5,751.6 1363.5,751.6 1365.5,751.5 1367.5,751.4 1369.5,751.3 1371.5,751.2 1373.5,751.1 1375.5,751.0 1377.5,750.9 1379.4,750.8 1381.4,750.7 1383.4,750.5 1385.4,750.4 1387.4,750.3 1389.4,750.1 1391.4,750.0 1393.4,749.9 1395.3,749.7 1397.3,749.5 1399.3,749.4 1401.3,749.2 1403.3,749.0 1405.3,748.9 1407.2,748.7 1409.2,748.5 1411.2,748.3 1413.2,748.1 1415.2,747.9 1417.2,747.7 1419.1,747.4 1421.1,747.2 1423.1,747.0 1425.1,746.7 1427.0,746.5 1429.0,746.2 1431.0,746.0 1433.0,745.7 1435.0,745.4 1436.9,745.1 1438.9,744.8 1440.9,744.5 1442.9,744.2 1444.8,743.9 1446.8,743.5 1448.8,743.2 1450.7,742.9 1452.7,742.5 1454.7,742.1 1456.7,741.7 1458.6,741.4 1460.6,741.0 1462.6,740.6 1464.5,740.1 1466.5,739.7 1468.5,739.3 1470.4,738.8 1472.4,738.3 1474.3,737.9 1476.3,737.4 1478.3,736.9 1480.2,736.4 1482.2,735.8 1484.1,735.3 1486.1,734.7 1488.0,734.2 1489.9,733.6 1491.9,733.0 1493.8,732.4 1495.7,731.7 1497.6,731.1 1499.5,730.4 1501.4,729.7 1503.3,729.0 1505.1,728.3 1507.0,727.6 1508.9,726.8 1510.7,726.0 1512.5,725.2 1514.4,724.4 1516.2,723.6 1518.0,722.7 1519.8,721.8 1521.5,720.9 1523.3,720.0 1525.0,719.0 1526.8,718.1 1528.5,717.1 1530.2,716.0 1531.9,715.0 1533.6,713.9 1535.2,712.8 1536.9,711.7 1538.5,710.6 1540.1,709.4 1541.7,708.2 1543.3,707.0 1544.8,705.7 1546.4,704.5 1547.9,703.2 1549.4,701.9 1550.9,700.6 1552.3,699.2 1553.8,697.9 1555.2,696.5 1556.6,695.1 1558.0,693.6 1559.4,692.2 1560.7,690.7 1562.1,689.2 1563.4,687.7 1564.7,686.2 1566.0,684.7 1567.2,683.2 1568.5,681.6 1569.7,680.0 1570.9,678.4 1572.1,676.8 1573.2,675.2 1574.3,673.6 1575.4,671.9 1576.5,670.2 1577.6,668.6 1578.7,666.9 1579.7,665.2 1580.7,663.5 1581.7,661.8 1582.7,660.0 1583.6,658.3 1584.5,656.5 1585.5,654.8 1586.4,653.0 1587.3,651.2 1588.1,649.4 1589.0,647.7 1589.9,645.8 1590.7,644.0 1591.5,642.2 1592.4,640.4 1593.2,638.6 1594.0,636.7 1594.8,634.9 1595.6,633.0 1596.4,631.2 1597.1,629.3 1597.9,627.5 1598.7,625.6 1599.4,623.7 1600.2,621.9 1601.0,620.0 1601.7,618.1 1602.5,616.2 1603.2,614.3 1603.9,612.4 1604.7,610.6 1605.4,608.7 1606.1,606.8 1606.8,604.9 1607.5,603.0 1608.2,601.1 1608.8,599.2 1609.5,597.3 1610.2,595.4 1610.8,593.6 1611.5,591.7 1612.2,589.8 1612.9,588.0 1613.6,586.1 1614.3,584.3 1615.1,582.4 1615.9,580.6 1616.7,578.8 1617.5,577.0 1618.4,575.2 1619.4,573.5 1620.4,571.7 1621.4,570.0 1622.5,568.3 1623.7,566.6 1624.9,565.0 1626.2,563.5 1627.5,562.1 1628.9,560.8 1630.4,559.8 1632.0,559.0 1633.5,560.5 1634.9,562.1 1636.2,563.7 1637.3,565.4 1638.4,567.0 1639.3,568.8 1640.2,570.5 1640.9,572.3 1641.6,574.1 1642.2,576.0 1642.8,577.8 1643.3,579.7 1643.8,581.6 1644.2,583.5 1644.6,585.5 1645.0,587.5 1645.4,589.4 1645.7,591.4 1646.0,593.4 1646.4,595.4 1646.7,597.4 1647.1,599.5 1647.4,601.5 1647.8,603.5 1648.2,605.5 1648.5,607.5 1648.9,609.6 1649.3,611.6 1649.7,613.6 1650.1,615.6 1650.4,617.6 1650.8,619.7 1651.1,621.7 1651.5,623.7 1651.7,625.7 1652.0,627.8 1652.3,629.8 1652.5,631.8 1652.7,633.8 1652.9,635.8 1653.1,637.9 1653.3,639.9 1653.4,641.9 1653.6,643.9 1653.7,645.9 1653.8,647.9 1653.9,649.9 1654.0,652.0 1654.2,654.0 1654.3,656.0 1654.4,658.0 1654.5,660.0 1654.6,662.0 1654.7,664.0 1654.8,666.0 1654.9,668.0 1655.1,670.0 1655.2,672.1 1655.4,674.1 1655.6,676.1 1655.7,678.1 1655.9,680.1 1656.2,682.1 1656.4,684.1 1656.6,686.1 1656.9,688.1 1657.2,690.1 1657.5,692.1 1657.8,694.1 1658.2,696.1 1658.5,698.1 1658.9,700.1 1659.3,702.1 1659.6,704.1 1660.0,706.0 1660.4,708.0 1660.8,710.0 1661.3,712.0 1661.7,714.0 1662.1,716.0 1662.5,718.0"/>
</g><g fill="#000"><rect x="214" y="1318.0" width="28" height="7.8"/><rect x="214" y="1258.0" width="15" height="2"/><rect x="214" y="1195.1" width="15" height="2"/><rect x="214" y="1132.2" width="15" height="2"/><rect x="214" y="1069.3" width="15" height="2"/><rect x="214" y="1003.5" width="28" height="7.8"/><rect x="214" y="943.5" width="15" height="2"/><rect x="214" y="880.6" width="15" height="2"/><rect x="214" y="817.7" width="15" height="2"/><rect x="214" y="754.8" width="15" height="2"/><rect x="214" y="689.0" width="28" height="7.8"/><rect x="214" y="629.0" width="15" height="2"/><rect x="214" y="566.1" width="15" height="2"/><rect x="214" y="503.2" width="15" height="2"/><rect x="214" y="440.3" width="15" height="2"/><rect x="214" y="374.5" width="28" height="7.8"/><rect x="214" y="314.5" width="15" height="2"/><rect x="214" y="251.6" width="15" height="2"/><rect x="214" y="188.7" width="15" height="2"/><rect x="214" y="125.8" width="15" height="2"/><rect x="282.1" y="1366" width="2" height="15"/><rect x="354.7" y="1366" width="2" height="15"/><rect x="427.3" y="1366" width="2" height="15"/><rect x="497.4" y="1354" width="7" height="27"/><rect x="572.5" y="1366" width="2" height="15"/><rect x="645.1" y="1366" width="2" height="15"/><rect x="717.7" y="1366" width="2" height="15"/><rect x="787.8" y="1354" width="7" height="27"/><rect x="862.9" y="1366" width="2" height="15"/><rect x="935.5" y="1366" width="2" height="15"/><rect x="1008.1" y="1366" width="2" height="15"/><rect x="1078.2" y="1354" width="7" height="27"/><rect x="1153.3" y="1366" width="2" height="15"/><rect x="1225.9" y="1366" width="2" height="15"/><rect x="1298.5" y="1366" width="2" height="15"/><rect x="1368.6" y="1354" width="7" height="27"/><rect x="1443.7" y="1366" width="2" height="15"/><rect x="1516.3" y="1366" width="2" height="15"/><rect x="1588.9" y="1366" width="2" height="15"/></g><rect x="210.5" y="63.5" width="1452" height="1321.5" fill="none" stroke="#000" stroke-width="7.2"/><g font-size="83.5" fill="#000" text-anchor="end"><text x="192" y="90.6">15</text><text x="192" y="405.1">10</text><text x="192" y="719.6">5</text><text x="192" y="1034.1">0</text><text x="192" y="1348.6">-5</text></g><g font-size="83.5" fill="#000" text-anchor="middle"><text x="210.5" y="1455">0</text><text x="500.9" y="1455">0.2</text><text x="791.3" y="1455">0.4</text><text x="1081.7" y="1455">0.6</text><text x="1372.1" y="1455">0.8</text><text x="1662.5" y="1455">1</text></g><text x="878" y="1531.5" font-size="82.5" font-weight="bold" font-style="italic">x<tspan dx="1.5">/</tspan><tspan dx="-1">L</tspan></text><text transform="translate(107.25,717) rotate(-90) scale(-1,1.083)" font-size="100" style="font-family:'DejaVu Serif',serif">γ</text><text transform="translate(125.2,778) rotate(-90)" font-size="120" style="font-family:'DejaVu Sans',sans-serif">˙</text><text transform="translate(113.8,727.1) rotate(-90) scale(1.024,1.243)" font-size="100" font-weight="bold">*</text><line x1="686" y1="300" x2="975" y2="300" stroke="#cc0000" stroke-width="7.5"/><line x1="686" y1="376.5" x2="975" y2="376.5" stroke="#00d000" stroke-width="7.5" stroke-dasharray="32 29.5"/><line x1="686" y1="453.4" x2="975" y2="453.4" stroke="#2e2eff" stroke-width="7.5" stroke-dasharray="32 11 7 11.5"/><line x1="686" y1="530.5" x2="975" y2="530.5" stroke="#ff8000" stroke-width="7.5" stroke-dasharray="29 6.8 6 6.8 6 6.9"/><text transform="translate(1023,0) scale(0.975,1) translate(-1023,0)" x="1022" y="319" font-size="66" font-weight="bold">Newtonian <tspan font-style="italic">Wi</tspan>=0</text><text transform="translate(1023,0) scale(0.975,1) translate(-1023,0)" x="1022" y="395.5" font-size="66" font-weight="bold">FENE-CR <tspan font-style="italic">Wi</tspan>=0.2</text><text transform="translate(1023,0) scale(0.975,1) translate(-1023,0)" x="1022" y="472.5" font-size="66" font-weight="bold">FENE-CR <tspan font-style="italic">Wi</tspan>=0.6</text><text transform="translate(1023,0) scale(0.975,1) translate(-1023,0)" x="1022" y="549" font-size="66" font-weight="bold">FENE-CR <tspan font-style="italic">Wi</tspan>=1.0</text></svg></body></html>
